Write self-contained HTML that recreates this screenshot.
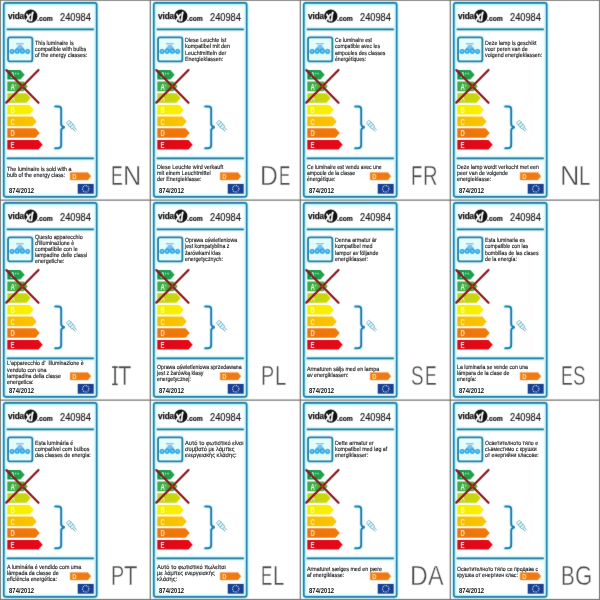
<!DOCTYPE html>
<html lang="en"><head><meta charset="utf-8"><title>Energy labels 240984</title>
<style>
html,body{margin:0;padding:0;background:#fff;}
body{width:600px;height:600px;position:relative;overflow:hidden;font-family:"Liberation Sans",sans-serif;}
.cell{position:absolute;width:150px;height:200px;}
.label{position:absolute;left:4px;top:3px;width:92.5px;height:193.7px;border-radius:2.2px;
  box-shadow:inset 0 0 4px 1.4px #b4f3fd; background:#ffffff;}
svg.g{position:absolute;left:0;top:0;overflow:visible}
.t{position:absolute;font-size:6.0px;line-height:10px;height:10px;white-space:nowrap;color:#1a1a1a;transform:scaleX(0.895);transform-origin:0 0;-webkit-text-stroke:0.14px #1a1a1a;text-rendering:geometricPrecision;}
.vida{position:absolute;left:7.8px;top:9.8px;-webkit-text-stroke:0.25px #111;font-weight:700;font-size:8.4px;line-height:12px;color:#111;letter-spacing:-0.1px;transform:scaleX(0.98);transform-origin:0 0;}
.com{position:absolute;left:36.9px;top:13px;-webkit-text-stroke:0.2px #111;font-weight:700;font-size:7.2px;line-height:12px;color:#111;transform:scaleX(0.94);transform-origin:0 0;}
.num{-webkit-text-stroke:0.15px #151515;position:absolute;left:60.2px;top:10px;font-size:10.6px;line-height:14px;color:#151515;transform:scaleX(0.875);transform-origin:0 0;}
.reg{letter-spacing:0.1px;position:absolute;left:8.8px;top:185.9px;font-weight:700;font-size:6.5px;line-height:10px;color:#101010;transform:scaleX(0.9);transform-origin:0 0;}
.lang{position:absolute;left:0;top:159.9px;height:32px;width:150px;}
.lang span{position:absolute;top:0;font-size:27.7px;line-height:32px;color:#4a4a4a;transform-origin:0 0;white-space:nowrap;-webkit-text-stroke:0.45px #fff;}
.lang svg.sf{position:absolute;left:0;top:0;}
svg.grid{position:absolute;left:0;top:0;}
#page{position:absolute;left:0;top:0;width:600px;height:600px;overflow:hidden;background:#fff;}
svg.g,.label,.lang,svg.grid,.hdr{filter:url(#soft);}
.hdr{position:absolute;left:0;top:0;width:100px;height:28px;}
</style></head><body>
<svg width="0" height="0" style="position:absolute"><filter id="soft" x="0" y="0" width="100%" height="100%" color-interpolation-filters="sRGB"><feConvolveMatrix order="3" kernelMatrix="0.01 0.06 0.01 0.06 0.72 0.06 0.01 0.06 0.01" edgeMode="duplicate" preserveAlpha="false"/></filter></svg>
<div id="page">
<div class="cell" style="left:0px;top:0px">
<div class="label"></div>
<svg class="g" width="150" height="200" viewBox="0 0 150 200">
<defs>
<linearGradient id="c00ag0" x1="0" x2="1" y1="0" y2="0"><stop offset="0" stop-color="#08934a"/><stop offset="1" stop-color="#2ba34a"/></linearGradient>
<linearGradient id="c00ag1" x1="0" x2="1" y1="0" y2="0"><stop offset="0" stop-color="#3aa947"/><stop offset="1" stop-color="#5bb23c"/></linearGradient>
<linearGradient id="c00ag2" x1="0" x2="1" y1="0" y2="0"><stop offset="0" stop-color="#bfd022"/><stop offset="1" stop-color="#cdd900"/></linearGradient>
<linearGradient id="c00ag3" x1="0" x2="1" y1="0" y2="0"><stop offset="0" stop-color="#f0f000"/><stop offset="1" stop-color="#ffec00"/></linearGradient>
<linearGradient id="c00ag4" x1="0" x2="1" y1="0" y2="0"><stop offset="0" stop-color="#f5bb00"/><stop offset="1" stop-color="#fcc600"/></linearGradient>
<linearGradient id="c00ag5" x1="0" x2="1" y1="0" y2="0"><stop offset="0" stop-color="#ea7410"/><stop offset="1" stop-color="#f27904"/></linearGradient>
<linearGradient id="c00ag6" x1="0" x2="1" y1="0" y2="0"><stop offset="0" stop-color="#d60a1c"/><stop offset="1" stop-color="#ea0814"/></linearGradient>
</defs>
<rect x="3.8" y="2.85" width="92.9" height="194" rx="2.2" fill="none" stroke="#a8f4ff" stroke-width="3.8" opacity="0.8"/>
<rect x="3.8" y="2.85" width="92.9" height="194" rx="2.2" fill="none" stroke="#267aa4" stroke-width="1.65"/>
<path d="M7 29.3 H93.6 M7 158.3 H93.6" stroke="#c4f3fc" stroke-width="5" stroke-linecap="round" opacity="0.6" fill="none"/>
<path d="M7.3 29.3 H93.3 M7.3 158.3 H93.3" stroke="#b4eefa" stroke-width="3" stroke-linecap="round" opacity="0.7" fill="none"/>
<line x1="7.5" y1="29.28" x2="93.1" y2="29.28" stroke="#25779a" stroke-width="1.76" stroke-linecap="round"/>
<line x1="7.5" y1="158.3" x2="93.1" y2="158.3" stroke="#25779a" stroke-width="1.82" stroke-linecap="round"/>
<rect x="8.05" y="37.36" width="24.3" height="24.1" rx="2" fill="none" stroke="#c4f5ff" stroke-width="4.6" opacity="0.6"/>
<rect x="8.05" y="37.36" width="24.3" height="24.1" rx="2" fill="#e3fdff" stroke="#2a7b9d" stroke-width="1.8"/>
<rect x="16" y="43.35" width="7.7" height="0.95" fill="#7f9db2"/>
<path d="M18.6 45 H21.4 Q23.4 46.8 24.8 50 H15.2 Q16.6 46.8 18.6 45 Z" fill="#72c2f6"/>
<g fill="#3fb0ec" stroke="#1f93d8" stroke-width="0.7">
<circle cx="12.0" cy="51.5" r="2.2"/>
<circle cx="17.1" cy="51.2" r="2.35"/>
<circle cx="22.3" cy="51.2" r="2.35"/>
<circle cx="27.6" cy="51.5" r="2.2"/>
</g>
<g fill="#7ccff9">
<circle cx="12.0" cy="51.3" r="0.95"/>
<circle cx="17.1" cy="51.0" r="0.95"/>
<circle cx="22.3" cy="51.0" r="0.95"/>
<circle cx="27.6" cy="51.3" r="0.95"/>
</g>
<path d="M7.3 69.90 H20.50 L24.70 74.70 L20.50 79.50 H7.3 Z" fill="url(#c00ag0)"/>
<path d="M7.3 81.57 H23.50 L27.70 86.37 L23.50 91.17 H7.3 Z" fill="url(#c00ag1)"/>
<path d="M7.3 93.24 H26.50 L30.70 98.04 L26.50 102.84 H7.3 Z" fill="url(#c00ag2)"/>
<path d="M7.3 104.91 H29.50 L33.70 109.71 L29.50 114.51 H7.3 Z" fill="url(#c00ag3)"/>
<path d="M7.3 116.58 H32.50 L36.70 121.38 L32.50 126.18 H7.3 Z" fill="url(#c00ag4)"/>
<path d="M7.3 128.25 H35.50 L39.70 133.05 L35.50 137.85 H7.3 Z" fill="url(#c00ag5)"/>
<path d="M7.3 139.92 H38.50 L42.70 144.72 L38.50 149.52 H7.3 Z" fill="url(#c00ag6)"/>
<text transform="translate(10.5 78.00) scale(0.7 1)" font-family="Liberation Sans, sans-serif" font-weight="700" font-size="8.6" fill="#f0fff2">A<tspan dy="-3.1" font-size="5" fill="#a4f2c0">++</tspan></text>
<text transform="translate(10.5 89.67) scale(0.7 1)" font-family="Liberation Sans, sans-serif" font-weight="700" font-size="8.6" fill="#f4fff0">A<tspan dy="-3.1" font-size="5" fill="#a4f2c0">+</tspan></text>
<text transform="translate(10.5 101.34) scale(0.7 1)" font-family="Liberation Sans, sans-serif" font-weight="700" font-size="8.6" fill="#f2f9b4">A</text>
<text transform="translate(10.5 113.01) scale(0.7 1)" font-family="Liberation Sans, sans-serif" font-weight="700" font-size="8.6" fill="#ffff94">B</text>
<text transform="translate(10.5 124.68) scale(0.7 1)" font-family="Liberation Sans, sans-serif" font-weight="700" font-size="8.6" fill="#fff0a0">C</text>
<text transform="translate(10.5 136.35) scale(0.7 1)" font-family="Liberation Sans, sans-serif" font-weight="700" font-size="8.6" fill="#ffe6b4">D</text>
<text transform="translate(10.5 148.02) scale(0.7 1)" font-family="Liberation Sans, sans-serif" font-weight="700" font-size="8.6" fill="#ffe6e0">E</text>
<path d="M6.4 70.1 L38.5 102.8 M38.5 70 L6.3 102.6" stroke="#8e181e" stroke-width="2.25" stroke-linecap="round" fill="none"/>
<rect x="-1.15" y="-1.15" width="2.3" height="2.3" transform="translate(22.4 86.4) rotate(45)" fill="#d8222c"/>
<path d="M55.2 106.5 H58.4 Q61.2 106.5 61.2 109.6 V124 Q61.2 126.7 64.7 127.3 Q61.2 127.9 61.2 130.6 V145.1 Q61.2 148.2 58.4 148.2 H55.2" stroke="#c8f6ff" stroke-width="4.6" fill="none" stroke-linecap="round" opacity="0.55"/>
<path d="M55.2 106.5 H58.4 Q61.2 106.5 61.2 109.6 V124 Q61.2 126.7 64.7 127.3 Q61.2 127.9 61.2 130.6 V145.1 Q61.2 148.2 58.4 148.2 H55.2" stroke="#1f7aae" stroke-width="1.9" fill="none" stroke-linecap="round"/>
<g transform="translate(72.0 126.3) rotate(49)" fill="none">
<rect x="-6.4" y="-2.1" width="8.6" height="4.2" rx="0.8" fill="#dcfaff" stroke="#6fa5bb" stroke-width="0.7"/>
<path d="M-3.5 -2.1 V2.1 M-0.7 -2.1 V2.1" stroke="#4a97b6" stroke-width="0.75"/>
<path d="M2.2 -1 H6 M2.2 1 H6" stroke="#5d9bb3" stroke-width="0.8"/>
</g>
<path d="M70.1 172.4 H87.9 L91 176.2 L87.9 180 H70.1 Z" fill="#ef7a14" stroke="#f6a35a" stroke-width="0.5"/>
<text transform="translate(72.2 179) scale(0.8 1)" font-family="Liberation Sans, sans-serif" font-weight="700" font-size="7.4" fill="#ffe489">D</text>
<rect x="77.7" y="183.9" width="16" height="9.8" fill="#173f92"/>
<circle cx="85.7" cy="188.8" r="3.2" fill="none" stroke="#d6e3f6" stroke-width="1.1" stroke-dasharray="0.9 0.78"/>
<circle cx="30.8" cy="16.2" r="6.6" fill="#111"/>
<text transform="translate(25.4 20.7) scale(0.72 1)" font-family="Liberation Sans, sans-serif" font-weight="700" font-style="italic" font-size="13.6" fill="#fff" stroke="#fff" stroke-width="0.45" letter-spacing="-0.3">xl</text>
</svg>
<div class="hdr"><div class="vida">vida</div><div class="com">.com</div><div class="num">240984</div></div>
<div class="t" style="left:35.2px;top:38.50px;transform:scaleX(0.892)">This luminaire is</div>
<div class="t" style="left:35.2px;top:44.70px;transform:scaleX(0.892)">compatible with bulbs</div>
<div class="t" style="left:35.2px;top:50.90px;transform:scaleX(0.892)">of the energy classes:</div>
<div class="t" style="left:7.4px;top:164.70px;transform:scaleX(0.892)">The luminaire is sold with a</div>
<div class="t" style="left:7.4px;top:170.90px;transform:scaleX(0.892)">bulb of the energy class:</div>
<div class="reg">874/2012</div>
<div class="lang"><span style="left:110.57px;transform:scaleX(0.640)">E</span><span style="left:123.12px;transform:scaleX(0.912)">N</span></div>
</div>
<div class="cell" style="left:150px;top:0px">
<div class="label"></div>
<svg class="g" width="150" height="200" viewBox="0 0 150 200">
<defs>
<linearGradient id="c10ag0" x1="0" x2="1" y1="0" y2="0"><stop offset="0" stop-color="#08934a"/><stop offset="1" stop-color="#2ba34a"/></linearGradient>
<linearGradient id="c10ag1" x1="0" x2="1" y1="0" y2="0"><stop offset="0" stop-color="#3aa947"/><stop offset="1" stop-color="#5bb23c"/></linearGradient>
<linearGradient id="c10ag2" x1="0" x2="1" y1="0" y2="0"><stop offset="0" stop-color="#bfd022"/><stop offset="1" stop-color="#cdd900"/></linearGradient>
<linearGradient id="c10ag3" x1="0" x2="1" y1="0" y2="0"><stop offset="0" stop-color="#f0f000"/><stop offset="1" stop-color="#ffec00"/></linearGradient>
<linearGradient id="c10ag4" x1="0" x2="1" y1="0" y2="0"><stop offset="0" stop-color="#f5bb00"/><stop offset="1" stop-color="#fcc600"/></linearGradient>
<linearGradient id="c10ag5" x1="0" x2="1" y1="0" y2="0"><stop offset="0" stop-color="#ea7410"/><stop offset="1" stop-color="#f27904"/></linearGradient>
<linearGradient id="c10ag6" x1="0" x2="1" y1="0" y2="0"><stop offset="0" stop-color="#d60a1c"/><stop offset="1" stop-color="#ea0814"/></linearGradient>
</defs>
<rect x="3.8" y="2.85" width="92.9" height="194" rx="2.2" fill="none" stroke="#a8f4ff" stroke-width="3.8" opacity="0.8"/>
<rect x="3.8" y="2.85" width="92.9" height="194" rx="2.2" fill="none" stroke="#267aa4" stroke-width="1.65"/>
<path d="M7 29.3 H93.6 M7 158.3 H93.6" stroke="#c4f3fc" stroke-width="5" stroke-linecap="round" opacity="0.6" fill="none"/>
<path d="M7.3 29.3 H93.3 M7.3 158.3 H93.3" stroke="#b4eefa" stroke-width="3" stroke-linecap="round" opacity="0.7" fill="none"/>
<line x1="7.5" y1="29.28" x2="93.1" y2="29.28" stroke="#25779a" stroke-width="1.76" stroke-linecap="round"/>
<line x1="7.5" y1="158.3" x2="93.1" y2="158.3" stroke="#25779a" stroke-width="1.82" stroke-linecap="round"/>
<rect x="8.05" y="37.36" width="24.3" height="24.1" rx="2" fill="none" stroke="#c4f5ff" stroke-width="4.6" opacity="0.6"/>
<rect x="8.05" y="37.36" width="24.3" height="24.1" rx="2" fill="#e3fdff" stroke="#2a7b9d" stroke-width="1.8"/>
<rect x="16" y="43.35" width="7.7" height="0.95" fill="#7f9db2"/>
<path d="M18.6 45 H21.4 Q23.4 46.8 24.8 50 H15.2 Q16.6 46.8 18.6 45 Z" fill="#72c2f6"/>
<g fill="#3fb0ec" stroke="#1f93d8" stroke-width="0.7">
<circle cx="12.0" cy="51.5" r="2.2"/>
<circle cx="17.1" cy="51.2" r="2.35"/>
<circle cx="22.3" cy="51.2" r="2.35"/>
<circle cx="27.6" cy="51.5" r="2.2"/>
</g>
<g fill="#7ccff9">
<circle cx="12.0" cy="51.3" r="0.95"/>
<circle cx="17.1" cy="51.0" r="0.95"/>
<circle cx="22.3" cy="51.0" r="0.95"/>
<circle cx="27.6" cy="51.3" r="0.95"/>
</g>
<path d="M7.3 69.90 H20.50 L24.70 74.70 L20.50 79.50 H7.3 Z" fill="url(#c10ag0)"/>
<path d="M7.3 81.57 H23.50 L27.70 86.37 L23.50 91.17 H7.3 Z" fill="url(#c10ag1)"/>
<path d="M7.3 93.24 H26.50 L30.70 98.04 L26.50 102.84 H7.3 Z" fill="url(#c10ag2)"/>
<path d="M7.3 104.91 H29.50 L33.70 109.71 L29.50 114.51 H7.3 Z" fill="url(#c10ag3)"/>
<path d="M7.3 116.58 H32.50 L36.70 121.38 L32.50 126.18 H7.3 Z" fill="url(#c10ag4)"/>
<path d="M7.3 128.25 H35.50 L39.70 133.05 L35.50 137.85 H7.3 Z" fill="url(#c10ag5)"/>
<path d="M7.3 139.92 H38.50 L42.70 144.72 L38.50 149.52 H7.3 Z" fill="url(#c10ag6)"/>
<text transform="translate(10.5 78.00) scale(0.7 1)" font-family="Liberation Sans, sans-serif" font-weight="700" font-size="8.6" fill="#f0fff2">A<tspan dy="-3.1" font-size="5" fill="#a4f2c0">++</tspan></text>
<text transform="translate(10.5 89.67) scale(0.7 1)" font-family="Liberation Sans, sans-serif" font-weight="700" font-size="8.6" fill="#f4fff0">A<tspan dy="-3.1" font-size="5" fill="#a4f2c0">+</tspan></text>
<text transform="translate(10.5 101.34) scale(0.7 1)" font-family="Liberation Sans, sans-serif" font-weight="700" font-size="8.6" fill="#f2f9b4">A</text>
<text transform="translate(10.5 113.01) scale(0.7 1)" font-family="Liberation Sans, sans-serif" font-weight="700" font-size="8.6" fill="#ffff94">B</text>
<text transform="translate(10.5 124.68) scale(0.7 1)" font-family="Liberation Sans, sans-serif" font-weight="700" font-size="8.6" fill="#fff0a0">C</text>
<text transform="translate(10.5 136.35) scale(0.7 1)" font-family="Liberation Sans, sans-serif" font-weight="700" font-size="8.6" fill="#ffe6b4">D</text>
<text transform="translate(10.5 148.02) scale(0.7 1)" font-family="Liberation Sans, sans-serif" font-weight="700" font-size="8.6" fill="#ffe6e0">E</text>
<path d="M6.4 70.1 L38.5 102.8 M38.5 70 L6.3 102.6" stroke="#8e181e" stroke-width="2.25" stroke-linecap="round" fill="none"/>
<rect x="-1.15" y="-1.15" width="2.3" height="2.3" transform="translate(22.4 86.4) rotate(45)" fill="#d8222c"/>
<path d="M55.2 106.5 H58.4 Q61.2 106.5 61.2 109.6 V124 Q61.2 126.7 64.7 127.3 Q61.2 127.9 61.2 130.6 V145.1 Q61.2 148.2 58.4 148.2 H55.2" stroke="#c8f6ff" stroke-width="4.6" fill="none" stroke-linecap="round" opacity="0.55"/>
<path d="M55.2 106.5 H58.4 Q61.2 106.5 61.2 109.6 V124 Q61.2 126.7 64.7 127.3 Q61.2 127.9 61.2 130.6 V145.1 Q61.2 148.2 58.4 148.2 H55.2" stroke="#1f7aae" stroke-width="1.9" fill="none" stroke-linecap="round"/>
<g transform="translate(72.0 126.3) rotate(49)" fill="none">
<rect x="-6.4" y="-2.1" width="8.6" height="4.2" rx="0.8" fill="#dcfaff" stroke="#6fa5bb" stroke-width="0.7"/>
<path d="M-3.5 -2.1 V2.1 M-0.7 -2.1 V2.1" stroke="#4a97b6" stroke-width="0.75"/>
<path d="M2.2 -1 H6 M2.2 1 H6" stroke="#5d9bb3" stroke-width="0.8"/>
</g>
<path d="M70.1 172.4 H87.9 L91 176.2 L87.9 180 H70.1 Z" fill="#ef7a14" stroke="#f6a35a" stroke-width="0.5"/>
<text transform="translate(72.2 179) scale(0.8 1)" font-family="Liberation Sans, sans-serif" font-weight="700" font-size="7.4" fill="#ffe489">D</text>
<rect x="77.7" y="183.9" width="16" height="9.8" fill="#173f92"/>
<circle cx="85.7" cy="188.8" r="3.2" fill="none" stroke="#d6e3f6" stroke-width="1.1" stroke-dasharray="0.9 0.78"/>
<circle cx="30.8" cy="16.2" r="6.6" fill="#111"/>
<text transform="translate(25.4 20.7) scale(0.72 1)" font-family="Liberation Sans, sans-serif" font-weight="700" font-style="italic" font-size="13.6" fill="#fff" stroke="#fff" stroke-width="0.45" letter-spacing="-0.3">xl</text>
</svg>
<div class="hdr"><div class="vida">vida</div><div class="com">.com</div><div class="num">240984</div></div>
<div class="t" style="left:35.2px;top:36.20px;transform:scaleX(0.895)">Diese Leuchte ist</div>
<div class="t" style="left:35.2px;top:42.40px;transform:scaleX(0.895)">kompatibel mit den</div>
<div class="t" style="left:35.2px;top:48.60px;transform:scaleX(0.895)">Leuchtmitteln der</div>
<div class="t" style="left:35.2px;top:54.80px;transform:scaleX(0.895)">Energieklassen:</div>
<div class="t" style="left:7.4px;top:162.50px;transform:scaleX(0.895)">Diese Leuchte wird verkauft</div>
<div class="t" style="left:7.4px;top:168.70px;transform:scaleX(0.895)">mit einem Leuchtmittel</div>
<div class="t" style="left:7.4px;top:174.90px;transform:scaleX(0.895)">der Energieklasse:</div>
<div class="reg">874/2012</div>
<div class="lang"><span style="left:109.96px;transform:scaleX(0.895)">D</span><span style="left:128.64px;transform:scaleX(0.612)">E</span></div>
</div>
<div class="cell" style="left:300px;top:0px">
<div class="label"></div>
<svg class="g" width="150" height="200" viewBox="0 0 150 200">
<defs>
<linearGradient id="c20ag0" x1="0" x2="1" y1="0" y2="0"><stop offset="0" stop-color="#08934a"/><stop offset="1" stop-color="#2ba34a"/></linearGradient>
<linearGradient id="c20ag1" x1="0" x2="1" y1="0" y2="0"><stop offset="0" stop-color="#3aa947"/><stop offset="1" stop-color="#5bb23c"/></linearGradient>
<linearGradient id="c20ag2" x1="0" x2="1" y1="0" y2="0"><stop offset="0" stop-color="#bfd022"/><stop offset="1" stop-color="#cdd900"/></linearGradient>
<linearGradient id="c20ag3" x1="0" x2="1" y1="0" y2="0"><stop offset="0" stop-color="#f0f000"/><stop offset="1" stop-color="#ffec00"/></linearGradient>
<linearGradient id="c20ag4" x1="0" x2="1" y1="0" y2="0"><stop offset="0" stop-color="#f5bb00"/><stop offset="1" stop-color="#fcc600"/></linearGradient>
<linearGradient id="c20ag5" x1="0" x2="1" y1="0" y2="0"><stop offset="0" stop-color="#ea7410"/><stop offset="1" stop-color="#f27904"/></linearGradient>
<linearGradient id="c20ag6" x1="0" x2="1" y1="0" y2="0"><stop offset="0" stop-color="#d60a1c"/><stop offset="1" stop-color="#ea0814"/></linearGradient>
</defs>
<rect x="3.8" y="2.85" width="92.9" height="194" rx="2.2" fill="none" stroke="#a8f4ff" stroke-width="3.8" opacity="0.8"/>
<rect x="3.8" y="2.85" width="92.9" height="194" rx="2.2" fill="none" stroke="#267aa4" stroke-width="1.65"/>
<path d="M7 29.3 H93.6 M7 158.3 H93.6" stroke="#c4f3fc" stroke-width="5" stroke-linecap="round" opacity="0.6" fill="none"/>
<path d="M7.3 29.3 H93.3 M7.3 158.3 H93.3" stroke="#b4eefa" stroke-width="3" stroke-linecap="round" opacity="0.7" fill="none"/>
<line x1="7.5" y1="29.28" x2="93.1" y2="29.28" stroke="#25779a" stroke-width="1.76" stroke-linecap="round"/>
<line x1="7.5" y1="158.3" x2="93.1" y2="158.3" stroke="#25779a" stroke-width="1.82" stroke-linecap="round"/>
<rect x="8.05" y="37.36" width="24.3" height="24.1" rx="2" fill="none" stroke="#c4f5ff" stroke-width="4.6" opacity="0.6"/>
<rect x="8.05" y="37.36" width="24.3" height="24.1" rx="2" fill="#e3fdff" stroke="#2a7b9d" stroke-width="1.8"/>
<rect x="16" y="43.35" width="7.7" height="0.95" fill="#7f9db2"/>
<path d="M18.6 45 H21.4 Q23.4 46.8 24.8 50 H15.2 Q16.6 46.8 18.6 45 Z" fill="#72c2f6"/>
<g fill="#3fb0ec" stroke="#1f93d8" stroke-width="0.7">
<circle cx="12.0" cy="51.5" r="2.2"/>
<circle cx="17.1" cy="51.2" r="2.35"/>
<circle cx="22.3" cy="51.2" r="2.35"/>
<circle cx="27.6" cy="51.5" r="2.2"/>
</g>
<g fill="#7ccff9">
<circle cx="12.0" cy="51.3" r="0.95"/>
<circle cx="17.1" cy="51.0" r="0.95"/>
<circle cx="22.3" cy="51.0" r="0.95"/>
<circle cx="27.6" cy="51.3" r="0.95"/>
</g>
<path d="M7.3 69.90 H20.50 L24.70 74.70 L20.50 79.50 H7.3 Z" fill="url(#c20ag0)"/>
<path d="M7.3 81.57 H23.50 L27.70 86.37 L23.50 91.17 H7.3 Z" fill="url(#c20ag1)"/>
<path d="M7.3 93.24 H26.50 L30.70 98.04 L26.50 102.84 H7.3 Z" fill="url(#c20ag2)"/>
<path d="M7.3 104.91 H29.50 L33.70 109.71 L29.50 114.51 H7.3 Z" fill="url(#c20ag3)"/>
<path d="M7.3 116.58 H32.50 L36.70 121.38 L32.50 126.18 H7.3 Z" fill="url(#c20ag4)"/>
<path d="M7.3 128.25 H35.50 L39.70 133.05 L35.50 137.85 H7.3 Z" fill="url(#c20ag5)"/>
<path d="M7.3 139.92 H38.50 L42.70 144.72 L38.50 149.52 H7.3 Z" fill="url(#c20ag6)"/>
<text transform="translate(10.5 78.00) scale(0.7 1)" font-family="Liberation Sans, sans-serif" font-weight="700" font-size="8.6" fill="#f0fff2">A<tspan dy="-3.1" font-size="5" fill="#a4f2c0">++</tspan></text>
<text transform="translate(10.5 89.67) scale(0.7 1)" font-family="Liberation Sans, sans-serif" font-weight="700" font-size="8.6" fill="#f4fff0">A<tspan dy="-3.1" font-size="5" fill="#a4f2c0">+</tspan></text>
<text transform="translate(10.5 101.34) scale(0.7 1)" font-family="Liberation Sans, sans-serif" font-weight="700" font-size="8.6" fill="#f2f9b4">A</text>
<text transform="translate(10.5 113.01) scale(0.7 1)" font-family="Liberation Sans, sans-serif" font-weight="700" font-size="8.6" fill="#ffff94">B</text>
<text transform="translate(10.5 124.68) scale(0.7 1)" font-family="Liberation Sans, sans-serif" font-weight="700" font-size="8.6" fill="#fff0a0">C</text>
<text transform="translate(10.5 136.35) scale(0.7 1)" font-family="Liberation Sans, sans-serif" font-weight="700" font-size="8.6" fill="#ffe6b4">D</text>
<text transform="translate(10.5 148.02) scale(0.7 1)" font-family="Liberation Sans, sans-serif" font-weight="700" font-size="8.6" fill="#ffe6e0">E</text>
<path d="M6.4 70.1 L38.5 102.8 M38.5 70 L6.3 102.6" stroke="#8e181e" stroke-width="2.25" stroke-linecap="round" fill="none"/>
<rect x="-1.15" y="-1.15" width="2.3" height="2.3" transform="translate(22.4 86.4) rotate(45)" fill="#d8222c"/>
<path d="M55.2 106.5 H58.4 Q61.2 106.5 61.2 109.6 V124 Q61.2 126.7 64.7 127.3 Q61.2 127.9 61.2 130.6 V145.1 Q61.2 148.2 58.4 148.2 H55.2" stroke="#c8f6ff" stroke-width="4.6" fill="none" stroke-linecap="round" opacity="0.55"/>
<path d="M55.2 106.5 H58.4 Q61.2 106.5 61.2 109.6 V124 Q61.2 126.7 64.7 127.3 Q61.2 127.9 61.2 130.6 V145.1 Q61.2 148.2 58.4 148.2 H55.2" stroke="#1f7aae" stroke-width="1.9" fill="none" stroke-linecap="round"/>
<g transform="translate(72.0 126.3) rotate(49)" fill="none">
<rect x="-6.4" y="-2.1" width="8.6" height="4.2" rx="0.8" fill="#dcfaff" stroke="#6fa5bb" stroke-width="0.7"/>
<path d="M-3.5 -2.1 V2.1 M-0.7 -2.1 V2.1" stroke="#4a97b6" stroke-width="0.75"/>
<path d="M2.2 -1 H6 M2.2 1 H6" stroke="#5d9bb3" stroke-width="0.8"/>
</g>
<path d="M70.1 172.4 H87.9 L91 176.2 L87.9 180 H70.1 Z" fill="#ef7a14" stroke="#f6a35a" stroke-width="0.5"/>
<text transform="translate(72.2 179) scale(0.8 1)" font-family="Liberation Sans, sans-serif" font-weight="700" font-size="7.4" fill="#ffe489">D</text>
<rect x="77.7" y="183.9" width="16" height="9.8" fill="#173f92"/>
<circle cx="85.7" cy="188.8" r="3.2" fill="none" stroke="#d6e3f6" stroke-width="1.1" stroke-dasharray="0.9 0.78"/>
<circle cx="30.8" cy="16.2" r="6.6" fill="#111"/>
<text transform="translate(25.4 20.7) scale(0.72 1)" font-family="Liberation Sans, sans-serif" font-weight="700" font-style="italic" font-size="13.6" fill="#fff" stroke="#fff" stroke-width="0.45" letter-spacing="-0.3">xl</text>
</svg>
<div class="hdr"><div class="vida">vida</div><div class="com">.com</div><div class="num">240984</div></div>
<div class="t" style="left:35.2px;top:36.20px;transform:scaleX(0.854)">Ce luminaire est</div>
<div class="t" style="left:35.2px;top:42.40px;transform:scaleX(0.854)">compatible avec les</div>
<div class="t" style="left:35.2px;top:48.60px;transform:scaleX(0.854)">ampoules des classes</div>
<div class="t" style="left:35.2px;top:54.80px;transform:scaleX(0.854)">énergétiques:</div>
<div class="t" style="left:7.4px;top:162.50px;transform:scaleX(0.854)">Ce luminaire est vendu avec une</div>
<div class="t" style="left:7.4px;top:168.70px;transform:scaleX(0.854)">ampoule de la classe</div>
<div class="t" style="left:7.4px;top:174.90px;transform:scaleX(0.854)">énergétique:</div>
<div class="reg">874/2012</div>
<div class="lang"><span style="left:110.50px;transform:scaleX(0.672)">F</span><span style="left:123.16px;transform:scaleX(0.730)">R</span></div>
</div>
<div class="cell" style="left:450px;top:0px">
<div class="label"></div>
<svg class="g" width="150" height="200" viewBox="0 0 150 200">
<defs>
<linearGradient id="c30ag0" x1="0" x2="1" y1="0" y2="0"><stop offset="0" stop-color="#08934a"/><stop offset="1" stop-color="#2ba34a"/></linearGradient>
<linearGradient id="c30ag1" x1="0" x2="1" y1="0" y2="0"><stop offset="0" stop-color="#3aa947"/><stop offset="1" stop-color="#5bb23c"/></linearGradient>
<linearGradient id="c30ag2" x1="0" x2="1" y1="0" y2="0"><stop offset="0" stop-color="#bfd022"/><stop offset="1" stop-color="#cdd900"/></linearGradient>
<linearGradient id="c30ag3" x1="0" x2="1" y1="0" y2="0"><stop offset="0" stop-color="#f0f000"/><stop offset="1" stop-color="#ffec00"/></linearGradient>
<linearGradient id="c30ag4" x1="0" x2="1" y1="0" y2="0"><stop offset="0" stop-color="#f5bb00"/><stop offset="1" stop-color="#fcc600"/></linearGradient>
<linearGradient id="c30ag5" x1="0" x2="1" y1="0" y2="0"><stop offset="0" stop-color="#ea7410"/><stop offset="1" stop-color="#f27904"/></linearGradient>
<linearGradient id="c30ag6" x1="0" x2="1" y1="0" y2="0"><stop offset="0" stop-color="#d60a1c"/><stop offset="1" stop-color="#ea0814"/></linearGradient>
</defs>
<rect x="3.8" y="2.85" width="92.9" height="194" rx="2.2" fill="none" stroke="#a8f4ff" stroke-width="3.8" opacity="0.8"/>
<rect x="3.8" y="2.85" width="92.9" height="194" rx="2.2" fill="none" stroke="#267aa4" stroke-width="1.65"/>
<path d="M7 29.3 H93.6 M7 158.3 H93.6" stroke="#c4f3fc" stroke-width="5" stroke-linecap="round" opacity="0.6" fill="none"/>
<path d="M7.3 29.3 H93.3 M7.3 158.3 H93.3" stroke="#b4eefa" stroke-width="3" stroke-linecap="round" opacity="0.7" fill="none"/>
<line x1="7.5" y1="29.28" x2="93.1" y2="29.28" stroke="#25779a" stroke-width="1.76" stroke-linecap="round"/>
<line x1="7.5" y1="158.3" x2="93.1" y2="158.3" stroke="#25779a" stroke-width="1.82" stroke-linecap="round"/>
<rect x="8.05" y="37.36" width="24.3" height="24.1" rx="2" fill="none" stroke="#c4f5ff" stroke-width="4.6" opacity="0.6"/>
<rect x="8.05" y="37.36" width="24.3" height="24.1" rx="2" fill="#e3fdff" stroke="#2a7b9d" stroke-width="1.8"/>
<rect x="16" y="43.35" width="7.7" height="0.95" fill="#7f9db2"/>
<path d="M18.6 45 H21.4 Q23.4 46.8 24.8 50 H15.2 Q16.6 46.8 18.6 45 Z" fill="#72c2f6"/>
<g fill="#3fb0ec" stroke="#1f93d8" stroke-width="0.7">
<circle cx="12.0" cy="51.5" r="2.2"/>
<circle cx="17.1" cy="51.2" r="2.35"/>
<circle cx="22.3" cy="51.2" r="2.35"/>
<circle cx="27.6" cy="51.5" r="2.2"/>
</g>
<g fill="#7ccff9">
<circle cx="12.0" cy="51.3" r="0.95"/>
<circle cx="17.1" cy="51.0" r="0.95"/>
<circle cx="22.3" cy="51.0" r="0.95"/>
<circle cx="27.6" cy="51.3" r="0.95"/>
</g>
<path d="M7.3 69.90 H20.50 L24.70 74.70 L20.50 79.50 H7.3 Z" fill="url(#c30ag0)"/>
<path d="M7.3 81.57 H23.50 L27.70 86.37 L23.50 91.17 H7.3 Z" fill="url(#c30ag1)"/>
<path d="M7.3 93.24 H26.50 L30.70 98.04 L26.50 102.84 H7.3 Z" fill="url(#c30ag2)"/>
<path d="M7.3 104.91 H29.50 L33.70 109.71 L29.50 114.51 H7.3 Z" fill="url(#c30ag3)"/>
<path d="M7.3 116.58 H32.50 L36.70 121.38 L32.50 126.18 H7.3 Z" fill="url(#c30ag4)"/>
<path d="M7.3 128.25 H35.50 L39.70 133.05 L35.50 137.85 H7.3 Z" fill="url(#c30ag5)"/>
<path d="M7.3 139.92 H38.50 L42.70 144.72 L38.50 149.52 H7.3 Z" fill="url(#c30ag6)"/>
<text transform="translate(10.5 78.00) scale(0.7 1)" font-family="Liberation Sans, sans-serif" font-weight="700" font-size="8.6" fill="#f0fff2">A<tspan dy="-3.1" font-size="5" fill="#a4f2c0">++</tspan></text>
<text transform="translate(10.5 89.67) scale(0.7 1)" font-family="Liberation Sans, sans-serif" font-weight="700" font-size="8.6" fill="#f4fff0">A<tspan dy="-3.1" font-size="5" fill="#a4f2c0">+</tspan></text>
<text transform="translate(10.5 101.34) scale(0.7 1)" font-family="Liberation Sans, sans-serif" font-weight="700" font-size="8.6" fill="#f2f9b4">A</text>
<text transform="translate(10.5 113.01) scale(0.7 1)" font-family="Liberation Sans, sans-serif" font-weight="700" font-size="8.6" fill="#ffff94">B</text>
<text transform="translate(10.5 124.68) scale(0.7 1)" font-family="Liberation Sans, sans-serif" font-weight="700" font-size="8.6" fill="#fff0a0">C</text>
<text transform="translate(10.5 136.35) scale(0.7 1)" font-family="Liberation Sans, sans-serif" font-weight="700" font-size="8.6" fill="#ffe6b4">D</text>
<text transform="translate(10.5 148.02) scale(0.7 1)" font-family="Liberation Sans, sans-serif" font-weight="700" font-size="8.6" fill="#ffe6e0">E</text>
<path d="M6.4 70.1 L38.5 102.8 M38.5 70 L6.3 102.6" stroke="#8e181e" stroke-width="2.25" stroke-linecap="round" fill="none"/>
<rect x="-1.15" y="-1.15" width="2.3" height="2.3" transform="translate(22.4 86.4) rotate(45)" fill="#d8222c"/>
<path d="M55.2 106.5 H58.4 Q61.2 106.5 61.2 109.6 V124 Q61.2 126.7 64.7 127.3 Q61.2 127.9 61.2 130.6 V145.1 Q61.2 148.2 58.4 148.2 H55.2" stroke="#c8f6ff" stroke-width="4.6" fill="none" stroke-linecap="round" opacity="0.55"/>
<path d="M55.2 106.5 H58.4 Q61.2 106.5 61.2 109.6 V124 Q61.2 126.7 64.7 127.3 Q61.2 127.9 61.2 130.6 V145.1 Q61.2 148.2 58.4 148.2 H55.2" stroke="#1f7aae" stroke-width="1.9" fill="none" stroke-linecap="round"/>
<g transform="translate(72.0 126.3) rotate(49)" fill="none">
<rect x="-6.4" y="-2.1" width="8.6" height="4.2" rx="0.8" fill="#dcfaff" stroke="#6fa5bb" stroke-width="0.7"/>
<path d="M-3.5 -2.1 V2.1 M-0.7 -2.1 V2.1" stroke="#4a97b6" stroke-width="0.75"/>
<path d="M2.2 -1 H6 M2.2 1 H6" stroke="#5d9bb3" stroke-width="0.8"/>
</g>
<path d="M70.1 172.4 H87.9 L91 176.2 L87.9 180 H70.1 Z" fill="#ef7a14" stroke="#f6a35a" stroke-width="0.5"/>
<text transform="translate(72.2 179) scale(0.8 1)" font-family="Liberation Sans, sans-serif" font-weight="700" font-size="7.4" fill="#ffe489">D</text>
<rect x="77.7" y="183.9" width="16" height="9.8" fill="#173f92"/>
<circle cx="85.7" cy="188.8" r="3.2" fill="none" stroke="#d6e3f6" stroke-width="1.1" stroke-dasharray="0.9 0.78"/>
<circle cx="30.8" cy="16.2" r="6.6" fill="#111"/>
<text transform="translate(25.4 20.7) scale(0.72 1)" font-family="Liberation Sans, sans-serif" font-weight="700" font-style="italic" font-size="13.6" fill="#fff" stroke="#fff" stroke-width="0.45" letter-spacing="-0.3">xl</text>
</svg>
<div class="hdr"><div class="vida">vida</div><div class="com">.com</div><div class="num">240984</div></div>
<div class="t" style="left:35.2px;top:38.50px;transform:scaleX(0.884)">Deze lamp is geschikt</div>
<div class="t" style="left:35.2px;top:44.70px;transform:scaleX(0.884)">voor peren van de</div>
<div class="t" style="left:35.2px;top:50.90px;transform:scaleX(0.884)">volgend energieklassen:</div>
<div class="t" style="left:7.4px;top:162.50px;transform:scaleX(0.884)">Deze lamp wordt verkocht met een</div>
<div class="t" style="left:7.4px;top:168.70px;transform:scaleX(0.884)">peer van de volgende</div>
<div class="t" style="left:7.4px;top:174.90px;transform:scaleX(0.884)">energieklasse:</div>
<div class="reg">874/2012</div>
<div class="lang"><span style="left:109.78px;transform:scaleX(0.971)">N</span><span style="left:129.12px;transform:scaleX(0.744)">L</span></div>
</div>
<div class="cell" style="left:0px;top:200px">
<div class="label"></div>
<svg class="g" width="150" height="200" viewBox="0 0 150 200">
<defs>
<linearGradient id="c01ag0" x1="0" x2="1" y1="0" y2="0"><stop offset="0" stop-color="#08934a"/><stop offset="1" stop-color="#2ba34a"/></linearGradient>
<linearGradient id="c01ag1" x1="0" x2="1" y1="0" y2="0"><stop offset="0" stop-color="#3aa947"/><stop offset="1" stop-color="#5bb23c"/></linearGradient>
<linearGradient id="c01ag2" x1="0" x2="1" y1="0" y2="0"><stop offset="0" stop-color="#bfd022"/><stop offset="1" stop-color="#cdd900"/></linearGradient>
<linearGradient id="c01ag3" x1="0" x2="1" y1="0" y2="0"><stop offset="0" stop-color="#f0f000"/><stop offset="1" stop-color="#ffec00"/></linearGradient>
<linearGradient id="c01ag4" x1="0" x2="1" y1="0" y2="0"><stop offset="0" stop-color="#f5bb00"/><stop offset="1" stop-color="#fcc600"/></linearGradient>
<linearGradient id="c01ag5" x1="0" x2="1" y1="0" y2="0"><stop offset="0" stop-color="#ea7410"/><stop offset="1" stop-color="#f27904"/></linearGradient>
<linearGradient id="c01ag6" x1="0" x2="1" y1="0" y2="0"><stop offset="0" stop-color="#d60a1c"/><stop offset="1" stop-color="#ea0814"/></linearGradient>
</defs>
<rect x="3.8" y="2.85" width="92.9" height="194" rx="2.2" fill="none" stroke="#a8f4ff" stroke-width="3.8" opacity="0.8"/>
<rect x="3.8" y="2.85" width="92.9" height="194" rx="2.2" fill="none" stroke="#267aa4" stroke-width="1.65"/>
<path d="M7 29.3 H93.6 M7 158.3 H93.6" stroke="#c4f3fc" stroke-width="5" stroke-linecap="round" opacity="0.6" fill="none"/>
<path d="M7.3 29.3 H93.3 M7.3 158.3 H93.3" stroke="#b4eefa" stroke-width="3" stroke-linecap="round" opacity="0.7" fill="none"/>
<line x1="7.5" y1="29.28" x2="93.1" y2="29.28" stroke="#25779a" stroke-width="1.76" stroke-linecap="round"/>
<line x1="7.5" y1="158.3" x2="93.1" y2="158.3" stroke="#25779a" stroke-width="1.82" stroke-linecap="round"/>
<rect x="8.05" y="37.36" width="24.3" height="24.1" rx="2" fill="none" stroke="#c4f5ff" stroke-width="4.6" opacity="0.6"/>
<rect x="8.05" y="37.36" width="24.3" height="24.1" rx="2" fill="#e3fdff" stroke="#2a7b9d" stroke-width="1.8"/>
<rect x="16" y="43.35" width="7.7" height="0.95" fill="#7f9db2"/>
<path d="M18.6 45 H21.4 Q23.4 46.8 24.8 50 H15.2 Q16.6 46.8 18.6 45 Z" fill="#72c2f6"/>
<g fill="#3fb0ec" stroke="#1f93d8" stroke-width="0.7">
<circle cx="12.0" cy="51.5" r="2.2"/>
<circle cx="17.1" cy="51.2" r="2.35"/>
<circle cx="22.3" cy="51.2" r="2.35"/>
<circle cx="27.6" cy="51.5" r="2.2"/>
</g>
<g fill="#7ccff9">
<circle cx="12.0" cy="51.3" r="0.95"/>
<circle cx="17.1" cy="51.0" r="0.95"/>
<circle cx="22.3" cy="51.0" r="0.95"/>
<circle cx="27.6" cy="51.3" r="0.95"/>
</g>
<path d="M7.3 69.90 H20.50 L24.70 74.70 L20.50 79.50 H7.3 Z" fill="url(#c01ag0)"/>
<path d="M7.3 81.57 H23.50 L27.70 86.37 L23.50 91.17 H7.3 Z" fill="url(#c01ag1)"/>
<path d="M7.3 93.24 H26.50 L30.70 98.04 L26.50 102.84 H7.3 Z" fill="url(#c01ag2)"/>
<path d="M7.3 104.91 H29.50 L33.70 109.71 L29.50 114.51 H7.3 Z" fill="url(#c01ag3)"/>
<path d="M7.3 116.58 H32.50 L36.70 121.38 L32.50 126.18 H7.3 Z" fill="url(#c01ag4)"/>
<path d="M7.3 128.25 H35.50 L39.70 133.05 L35.50 137.85 H7.3 Z" fill="url(#c01ag5)"/>
<path d="M7.3 139.92 H38.50 L42.70 144.72 L38.50 149.52 H7.3 Z" fill="url(#c01ag6)"/>
<text transform="translate(10.5 78.00) scale(0.7 1)" font-family="Liberation Sans, sans-serif" font-weight="700" font-size="8.6" fill="#f0fff2">A<tspan dy="-3.1" font-size="5" fill="#a4f2c0">++</tspan></text>
<text transform="translate(10.5 89.67) scale(0.7 1)" font-family="Liberation Sans, sans-serif" font-weight="700" font-size="8.6" fill="#f4fff0">A<tspan dy="-3.1" font-size="5" fill="#a4f2c0">+</tspan></text>
<text transform="translate(10.5 101.34) scale(0.7 1)" font-family="Liberation Sans, sans-serif" font-weight="700" font-size="8.6" fill="#f2f9b4">A</text>
<text transform="translate(10.5 113.01) scale(0.7 1)" font-family="Liberation Sans, sans-serif" font-weight="700" font-size="8.6" fill="#ffff94">B</text>
<text transform="translate(10.5 124.68) scale(0.7 1)" font-family="Liberation Sans, sans-serif" font-weight="700" font-size="8.6" fill="#fff0a0">C</text>
<text transform="translate(10.5 136.35) scale(0.7 1)" font-family="Liberation Sans, sans-serif" font-weight="700" font-size="8.6" fill="#ffe6b4">D</text>
<text transform="translate(10.5 148.02) scale(0.7 1)" font-family="Liberation Sans, sans-serif" font-weight="700" font-size="8.6" fill="#ffe6e0">E</text>
<path d="M6.4 70.1 L38.5 102.8 M38.5 70 L6.3 102.6" stroke="#8e181e" stroke-width="2.25" stroke-linecap="round" fill="none"/>
<rect x="-1.15" y="-1.15" width="2.3" height="2.3" transform="translate(22.4 86.4) rotate(45)" fill="#d8222c"/>
<path d="M55.2 106.5 H58.4 Q61.2 106.5 61.2 109.6 V124 Q61.2 126.7 64.7 127.3 Q61.2 127.9 61.2 130.6 V145.1 Q61.2 148.2 58.4 148.2 H55.2" stroke="#c8f6ff" stroke-width="4.6" fill="none" stroke-linecap="round" opacity="0.55"/>
<path d="M55.2 106.5 H58.4 Q61.2 106.5 61.2 109.6 V124 Q61.2 126.7 64.7 127.3 Q61.2 127.9 61.2 130.6 V145.1 Q61.2 148.2 58.4 148.2 H55.2" stroke="#1f7aae" stroke-width="1.9" fill="none" stroke-linecap="round"/>
<g transform="translate(72.0 126.3) rotate(49)" fill="none">
<rect x="-6.4" y="-2.1" width="8.6" height="4.2" rx="0.8" fill="#dcfaff" stroke="#6fa5bb" stroke-width="0.7"/>
<path d="M-3.5 -2.1 V2.1 M-0.7 -2.1 V2.1" stroke="#4a97b6" stroke-width="0.75"/>
<path d="M2.2 -1 H6 M2.2 1 H6" stroke="#5d9bb3" stroke-width="0.8"/>
</g>
<path d="M70.1 172.4 H87.9 L91 176.2 L87.9 180 H70.1 Z" fill="#ef7a14" stroke="#f6a35a" stroke-width="0.5"/>
<text transform="translate(72.2 179) scale(0.8 1)" font-family="Liberation Sans, sans-serif" font-weight="700" font-size="7.4" fill="#ffe489">D</text>
<rect x="77.7" y="183.9" width="16" height="9.8" fill="#173f92"/>
<circle cx="85.7" cy="188.8" r="3.2" fill="none" stroke="#d6e3f6" stroke-width="1.1" stroke-dasharray="0.9 0.78"/>
<circle cx="30.8" cy="16.2" r="6.6" fill="#111"/>
<text transform="translate(25.4 20.7) scale(0.72 1)" font-family="Liberation Sans, sans-serif" font-weight="700" font-style="italic" font-size="13.6" fill="#fff" stroke="#fff" stroke-width="0.45" letter-spacing="-0.3">xl</text>
</svg>
<div class="hdr"><div class="vida">vida</div><div class="com">.com</div><div class="num">240984</div></div>
<div class="t" style="left:35.2px;top:32.50px;transform:scaleX(0.888)">Questo apparecchio</div>
<div class="t" style="left:35.2px;top:38.70px;transform:scaleX(0.888)">d&#x27;illuminazione è</div>
<div class="t" style="left:35.2px;top:44.90px;transform:scaleX(0.888)">compatibile con le</div>
<div class="t" style="left:35.2px;top:51.10px;transform:scaleX(0.888)">lampadine delle classi</div>
<div class="t" style="left:35.2px;top:57.30px;transform:scaleX(0.888)">energetiche:</div>
<div class="t" style="left:7.4px;top:159.40px;transform:scaleX(0.888)">L&#x27;apparecchio d&#x27;  illuminazione è</div>
<div class="t" style="left:7.4px;top:165.60px;transform:scaleX(0.888)">venduto con una</div>
<div class="t" style="left:7.4px;top:171.80px;transform:scaleX(0.888)">lampadina della classe</div>
<div class="t" style="left:7.4px;top:178.00px;transform:scaleX(0.888)">energetica:</div>
<div class="reg">874/2012</div>
<div class="lang"><span style="left:111.87px;transform:scaleX(0.792)">I</span><svg class="sf" width="150" height="32" viewBox="0 0 150 32"><rect x="112.1" y="6.3" width="5.65" height="1.6" fill="#4e4e4e"/><rect x="112.1" y="23.55" width="5.65" height="1.6" fill="#4e4e4e"/></svg><span style="left:118.38px;transform:scaleX(0.793)">T</span></div>
</div>
<div class="cell" style="left:150px;top:200px">
<div class="label"></div>
<svg class="g" width="150" height="200" viewBox="0 0 150 200">
<defs>
<linearGradient id="c11ag0" x1="0" x2="1" y1="0" y2="0"><stop offset="0" stop-color="#08934a"/><stop offset="1" stop-color="#2ba34a"/></linearGradient>
<linearGradient id="c11ag1" x1="0" x2="1" y1="0" y2="0"><stop offset="0" stop-color="#3aa947"/><stop offset="1" stop-color="#5bb23c"/></linearGradient>
<linearGradient id="c11ag2" x1="0" x2="1" y1="0" y2="0"><stop offset="0" stop-color="#bfd022"/><stop offset="1" stop-color="#cdd900"/></linearGradient>
<linearGradient id="c11ag3" x1="0" x2="1" y1="0" y2="0"><stop offset="0" stop-color="#f0f000"/><stop offset="1" stop-color="#ffec00"/></linearGradient>
<linearGradient id="c11ag4" x1="0" x2="1" y1="0" y2="0"><stop offset="0" stop-color="#f5bb00"/><stop offset="1" stop-color="#fcc600"/></linearGradient>
<linearGradient id="c11ag5" x1="0" x2="1" y1="0" y2="0"><stop offset="0" stop-color="#ea7410"/><stop offset="1" stop-color="#f27904"/></linearGradient>
<linearGradient id="c11ag6" x1="0" x2="1" y1="0" y2="0"><stop offset="0" stop-color="#d60a1c"/><stop offset="1" stop-color="#ea0814"/></linearGradient>
</defs>
<rect x="3.8" y="2.85" width="92.9" height="194" rx="2.2" fill="none" stroke="#a8f4ff" stroke-width="3.8" opacity="0.8"/>
<rect x="3.8" y="2.85" width="92.9" height="194" rx="2.2" fill="none" stroke="#267aa4" stroke-width="1.65"/>
<path d="M7 29.3 H93.6 M7 158.3 H93.6" stroke="#c4f3fc" stroke-width="5" stroke-linecap="round" opacity="0.6" fill="none"/>
<path d="M7.3 29.3 H93.3 M7.3 158.3 H93.3" stroke="#b4eefa" stroke-width="3" stroke-linecap="round" opacity="0.7" fill="none"/>
<line x1="7.5" y1="29.28" x2="93.1" y2="29.28" stroke="#25779a" stroke-width="1.76" stroke-linecap="round"/>
<line x1="7.5" y1="158.3" x2="93.1" y2="158.3" stroke="#25779a" stroke-width="1.82" stroke-linecap="round"/>
<rect x="8.05" y="37.36" width="24.3" height="24.1" rx="2" fill="none" stroke="#c4f5ff" stroke-width="4.6" opacity="0.6"/>
<rect x="8.05" y="37.36" width="24.3" height="24.1" rx="2" fill="#e3fdff" stroke="#2a7b9d" stroke-width="1.8"/>
<rect x="16" y="43.35" width="7.7" height="0.95" fill="#7f9db2"/>
<path d="M18.6 45 H21.4 Q23.4 46.8 24.8 50 H15.2 Q16.6 46.8 18.6 45 Z" fill="#72c2f6"/>
<g fill="#3fb0ec" stroke="#1f93d8" stroke-width="0.7">
<circle cx="12.0" cy="51.5" r="2.2"/>
<circle cx="17.1" cy="51.2" r="2.35"/>
<circle cx="22.3" cy="51.2" r="2.35"/>
<circle cx="27.6" cy="51.5" r="2.2"/>
</g>
<g fill="#7ccff9">
<circle cx="12.0" cy="51.3" r="0.95"/>
<circle cx="17.1" cy="51.0" r="0.95"/>
<circle cx="22.3" cy="51.0" r="0.95"/>
<circle cx="27.6" cy="51.3" r="0.95"/>
</g>
<path d="M7.3 69.90 H20.50 L24.70 74.70 L20.50 79.50 H7.3 Z" fill="url(#c11ag0)"/>
<path d="M7.3 81.57 H23.50 L27.70 86.37 L23.50 91.17 H7.3 Z" fill="url(#c11ag1)"/>
<path d="M7.3 93.24 H26.50 L30.70 98.04 L26.50 102.84 H7.3 Z" fill="url(#c11ag2)"/>
<path d="M7.3 104.91 H29.50 L33.70 109.71 L29.50 114.51 H7.3 Z" fill="url(#c11ag3)"/>
<path d="M7.3 116.58 H32.50 L36.70 121.38 L32.50 126.18 H7.3 Z" fill="url(#c11ag4)"/>
<path d="M7.3 128.25 H35.50 L39.70 133.05 L35.50 137.85 H7.3 Z" fill="url(#c11ag5)"/>
<path d="M7.3 139.92 H38.50 L42.70 144.72 L38.50 149.52 H7.3 Z" fill="url(#c11ag6)"/>
<text transform="translate(10.5 78.00) scale(0.7 1)" font-family="Liberation Sans, sans-serif" font-weight="700" font-size="8.6" fill="#f0fff2">A<tspan dy="-3.1" font-size="5" fill="#a4f2c0">++</tspan></text>
<text transform="translate(10.5 89.67) scale(0.7 1)" font-family="Liberation Sans, sans-serif" font-weight="700" font-size="8.6" fill="#f4fff0">A<tspan dy="-3.1" font-size="5" fill="#a4f2c0">+</tspan></text>
<text transform="translate(10.5 101.34) scale(0.7 1)" font-family="Liberation Sans, sans-serif" font-weight="700" font-size="8.6" fill="#f2f9b4">A</text>
<text transform="translate(10.5 113.01) scale(0.7 1)" font-family="Liberation Sans, sans-serif" font-weight="700" font-size="8.6" fill="#ffff94">B</text>
<text transform="translate(10.5 124.68) scale(0.7 1)" font-family="Liberation Sans, sans-serif" font-weight="700" font-size="8.6" fill="#fff0a0">C</text>
<text transform="translate(10.5 136.35) scale(0.7 1)" font-family="Liberation Sans, sans-serif" font-weight="700" font-size="8.6" fill="#ffe6b4">D</text>
<text transform="translate(10.5 148.02) scale(0.7 1)" font-family="Liberation Sans, sans-serif" font-weight="700" font-size="8.6" fill="#ffe6e0">E</text>
<path d="M6.4 70.1 L38.5 102.8 M38.5 70 L6.3 102.6" stroke="#8e181e" stroke-width="2.25" stroke-linecap="round" fill="none"/>
<rect x="-1.15" y="-1.15" width="2.3" height="2.3" transform="translate(22.4 86.4) rotate(45)" fill="#d8222c"/>
<path d="M55.2 106.5 H58.4 Q61.2 106.5 61.2 109.6 V124 Q61.2 126.7 64.7 127.3 Q61.2 127.9 61.2 130.6 V145.1 Q61.2 148.2 58.4 148.2 H55.2" stroke="#c8f6ff" stroke-width="4.6" fill="none" stroke-linecap="round" opacity="0.55"/>
<path d="M55.2 106.5 H58.4 Q61.2 106.5 61.2 109.6 V124 Q61.2 126.7 64.7 127.3 Q61.2 127.9 61.2 130.6 V145.1 Q61.2 148.2 58.4 148.2 H55.2" stroke="#1f7aae" stroke-width="1.9" fill="none" stroke-linecap="round"/>
<g transform="translate(72.0 126.3) rotate(49)" fill="none">
<rect x="-6.4" y="-2.1" width="8.6" height="4.2" rx="0.8" fill="#dcfaff" stroke="#6fa5bb" stroke-width="0.7"/>
<path d="M-3.5 -2.1 V2.1 M-0.7 -2.1 V2.1" stroke="#4a97b6" stroke-width="0.75"/>
<path d="M2.2 -1 H6 M2.2 1 H6" stroke="#5d9bb3" stroke-width="0.8"/>
</g>
<path d="M70.1 172.4 H87.9 L91 176.2 L87.9 180 H70.1 Z" fill="#ef7a14" stroke="#f6a35a" stroke-width="0.5"/>
<text transform="translate(72.2 179) scale(0.8 1)" font-family="Liberation Sans, sans-serif" font-weight="700" font-size="7.4" fill="#ffe489">D</text>
<rect x="77.7" y="183.9" width="16" height="9.8" fill="#173f92"/>
<circle cx="85.7" cy="188.8" r="3.2" fill="none" stroke="#d6e3f6" stroke-width="1.1" stroke-dasharray="0.9 0.78"/>
<circle cx="30.8" cy="16.2" r="6.6" fill="#111"/>
<text transform="translate(25.4 20.7) scale(0.72 1)" font-family="Liberation Sans, sans-serif" font-weight="700" font-style="italic" font-size="13.6" fill="#fff" stroke="#fff" stroke-width="0.45" letter-spacing="-0.3">xl</text>
</svg>
<div class="hdr"><div class="vida">vida</div><div class="com">.com</div><div class="num">240984</div></div>
<div class="t" style="left:35.2px;top:36.20px;transform:scaleX(0.869)">Oprawa oświetleniowa</div>
<div class="t" style="left:35.2px;top:42.40px;transform:scaleX(0.869)">jest kompatybilna z</div>
<div class="t" style="left:35.2px;top:48.60px;transform:scaleX(0.869)">żarówkami klas</div>
<div class="t" style="left:35.2px;top:54.80px;transform:scaleX(0.869)">energetycznych:</div>
<div class="t" style="left:7.4px;top:162.50px;transform:scaleX(0.869)">Oprawa oświetleniowa sprzedawana</div>
<div class="t" style="left:7.4px;top:168.70px;transform:scaleX(0.869)">jest z żarówką klasy</div>
<div class="t" style="left:7.4px;top:174.90px;transform:scaleX(0.869)">energetycznej:</div>
<div class="reg">874/2012</div>
<div class="lang"><span style="left:110.79px;transform:scaleX(0.714)">P</span><span style="left:124.97px;transform:scaleX(0.744)">L</span></div>
</div>
<div class="cell" style="left:300px;top:200px">
<div class="label"></div>
<svg class="g" width="150" height="200" viewBox="0 0 150 200">
<defs>
<linearGradient id="c21ag0" x1="0" x2="1" y1="0" y2="0"><stop offset="0" stop-color="#08934a"/><stop offset="1" stop-color="#2ba34a"/></linearGradient>
<linearGradient id="c21ag1" x1="0" x2="1" y1="0" y2="0"><stop offset="0" stop-color="#3aa947"/><stop offset="1" stop-color="#5bb23c"/></linearGradient>
<linearGradient id="c21ag2" x1="0" x2="1" y1="0" y2="0"><stop offset="0" stop-color="#bfd022"/><stop offset="1" stop-color="#cdd900"/></linearGradient>
<linearGradient id="c21ag3" x1="0" x2="1" y1="0" y2="0"><stop offset="0" stop-color="#f0f000"/><stop offset="1" stop-color="#ffec00"/></linearGradient>
<linearGradient id="c21ag4" x1="0" x2="1" y1="0" y2="0"><stop offset="0" stop-color="#f5bb00"/><stop offset="1" stop-color="#fcc600"/></linearGradient>
<linearGradient id="c21ag5" x1="0" x2="1" y1="0" y2="0"><stop offset="0" stop-color="#ea7410"/><stop offset="1" stop-color="#f27904"/></linearGradient>
<linearGradient id="c21ag6" x1="0" x2="1" y1="0" y2="0"><stop offset="0" stop-color="#d60a1c"/><stop offset="1" stop-color="#ea0814"/></linearGradient>
</defs>
<rect x="3.8" y="2.85" width="92.9" height="194" rx="2.2" fill="none" stroke="#a8f4ff" stroke-width="3.8" opacity="0.8"/>
<rect x="3.8" y="2.85" width="92.9" height="194" rx="2.2" fill="none" stroke="#267aa4" stroke-width="1.65"/>
<path d="M7 29.3 H93.6 M7 158.3 H93.6" stroke="#c4f3fc" stroke-width="5" stroke-linecap="round" opacity="0.6" fill="none"/>
<path d="M7.3 29.3 H93.3 M7.3 158.3 H93.3" stroke="#b4eefa" stroke-width="3" stroke-linecap="round" opacity="0.7" fill="none"/>
<line x1="7.5" y1="29.28" x2="93.1" y2="29.28" stroke="#25779a" stroke-width="1.76" stroke-linecap="round"/>
<line x1="7.5" y1="158.3" x2="93.1" y2="158.3" stroke="#25779a" stroke-width="1.82" stroke-linecap="round"/>
<rect x="8.05" y="37.36" width="24.3" height="24.1" rx="2" fill="none" stroke="#c4f5ff" stroke-width="4.6" opacity="0.6"/>
<rect x="8.05" y="37.36" width="24.3" height="24.1" rx="2" fill="#e3fdff" stroke="#2a7b9d" stroke-width="1.8"/>
<rect x="16" y="43.35" width="7.7" height="0.95" fill="#7f9db2"/>
<path d="M18.6 45 H21.4 Q23.4 46.8 24.8 50 H15.2 Q16.6 46.8 18.6 45 Z" fill="#72c2f6"/>
<g fill="#3fb0ec" stroke="#1f93d8" stroke-width="0.7">
<circle cx="12.0" cy="51.5" r="2.2"/>
<circle cx="17.1" cy="51.2" r="2.35"/>
<circle cx="22.3" cy="51.2" r="2.35"/>
<circle cx="27.6" cy="51.5" r="2.2"/>
</g>
<g fill="#7ccff9">
<circle cx="12.0" cy="51.3" r="0.95"/>
<circle cx="17.1" cy="51.0" r="0.95"/>
<circle cx="22.3" cy="51.0" r="0.95"/>
<circle cx="27.6" cy="51.3" r="0.95"/>
</g>
<path d="M7.3 69.90 H20.50 L24.70 74.70 L20.50 79.50 H7.3 Z" fill="url(#c21ag0)"/>
<path d="M7.3 81.57 H23.50 L27.70 86.37 L23.50 91.17 H7.3 Z" fill="url(#c21ag1)"/>
<path d="M7.3 93.24 H26.50 L30.70 98.04 L26.50 102.84 H7.3 Z" fill="url(#c21ag2)"/>
<path d="M7.3 104.91 H29.50 L33.70 109.71 L29.50 114.51 H7.3 Z" fill="url(#c21ag3)"/>
<path d="M7.3 116.58 H32.50 L36.70 121.38 L32.50 126.18 H7.3 Z" fill="url(#c21ag4)"/>
<path d="M7.3 128.25 H35.50 L39.70 133.05 L35.50 137.85 H7.3 Z" fill="url(#c21ag5)"/>
<path d="M7.3 139.92 H38.50 L42.70 144.72 L38.50 149.52 H7.3 Z" fill="url(#c21ag6)"/>
<text transform="translate(10.5 78.00) scale(0.7 1)" font-family="Liberation Sans, sans-serif" font-weight="700" font-size="8.6" fill="#f0fff2">A<tspan dy="-3.1" font-size="5" fill="#a4f2c0">++</tspan></text>
<text transform="translate(10.5 89.67) scale(0.7 1)" font-family="Liberation Sans, sans-serif" font-weight="700" font-size="8.6" fill="#f4fff0">A<tspan dy="-3.1" font-size="5" fill="#a4f2c0">+</tspan></text>
<text transform="translate(10.5 101.34) scale(0.7 1)" font-family="Liberation Sans, sans-serif" font-weight="700" font-size="8.6" fill="#f2f9b4">A</text>
<text transform="translate(10.5 113.01) scale(0.7 1)" font-family="Liberation Sans, sans-serif" font-weight="700" font-size="8.6" fill="#ffff94">B</text>
<text transform="translate(10.5 124.68) scale(0.7 1)" font-family="Liberation Sans, sans-serif" font-weight="700" font-size="8.6" fill="#fff0a0">C</text>
<text transform="translate(10.5 136.35) scale(0.7 1)" font-family="Liberation Sans, sans-serif" font-weight="700" font-size="8.6" fill="#ffe6b4">D</text>
<text transform="translate(10.5 148.02) scale(0.7 1)" font-family="Liberation Sans, sans-serif" font-weight="700" font-size="8.6" fill="#ffe6e0">E</text>
<path d="M6.4 70.1 L38.5 102.8 M38.5 70 L6.3 102.6" stroke="#8e181e" stroke-width="2.25" stroke-linecap="round" fill="none"/>
<rect x="-1.15" y="-1.15" width="2.3" height="2.3" transform="translate(22.4 86.4) rotate(45)" fill="#d8222c"/>
<path d="M55.2 106.5 H58.4 Q61.2 106.5 61.2 109.6 V124 Q61.2 126.7 64.7 127.3 Q61.2 127.9 61.2 130.6 V145.1 Q61.2 148.2 58.4 148.2 H55.2" stroke="#c8f6ff" stroke-width="4.6" fill="none" stroke-linecap="round" opacity="0.55"/>
<path d="M55.2 106.5 H58.4 Q61.2 106.5 61.2 109.6 V124 Q61.2 126.7 64.7 127.3 Q61.2 127.9 61.2 130.6 V145.1 Q61.2 148.2 58.4 148.2 H55.2" stroke="#1f7aae" stroke-width="1.9" fill="none" stroke-linecap="round"/>
<g transform="translate(72.0 126.3) rotate(49)" fill="none">
<rect x="-6.4" y="-2.1" width="8.6" height="4.2" rx="0.8" fill="#dcfaff" stroke="#6fa5bb" stroke-width="0.7"/>
<path d="M-3.5 -2.1 V2.1 M-0.7 -2.1 V2.1" stroke="#4a97b6" stroke-width="0.75"/>
<path d="M2.2 -1 H6 M2.2 1 H6" stroke="#5d9bb3" stroke-width="0.8"/>
</g>
<path d="M70.1 172.4 H87.9 L91 176.2 L87.9 180 H70.1 Z" fill="#ef7a14" stroke="#f6a35a" stroke-width="0.5"/>
<text transform="translate(72.2 179) scale(0.8 1)" font-family="Liberation Sans, sans-serif" font-weight="700" font-size="7.4" fill="#ffe489">D</text>
<rect x="77.7" y="183.9" width="16" height="9.8" fill="#173f92"/>
<circle cx="85.7" cy="188.8" r="3.2" fill="none" stroke="#d6e3f6" stroke-width="1.1" stroke-dasharray="0.9 0.78"/>
<circle cx="30.8" cy="16.2" r="6.6" fill="#111"/>
<text transform="translate(25.4 20.7) scale(0.72 1)" font-family="Liberation Sans, sans-serif" font-weight="700" font-style="italic" font-size="13.6" fill="#fff" stroke="#fff" stroke-width="0.45" letter-spacing="-0.3">xl</text>
</svg>
<div class="hdr"><div class="vida">vida</div><div class="com">.com</div><div class="num">240984</div></div>
<div class="t" style="left:35.2px;top:36.20px;transform:scaleX(0.886)">Denna armatur är</div>
<div class="t" style="left:35.2px;top:42.40px;transform:scaleX(0.886)">kompatibel med</div>
<div class="t" style="left:35.2px;top:48.60px;transform:scaleX(0.886)">lampor av följande</div>
<div class="t" style="left:35.2px;top:54.80px;transform:scaleX(0.886)">energiklasser:</div>
<div class="t" style="left:7.4px;top:164.70px;transform:scaleX(0.886)">Armaturen säljs med en lampa</div>
<div class="t" style="left:7.4px;top:170.90px;transform:scaleX(0.886)">av energiklassen:</div>
<div class="reg">874/2012</div>
<div class="lang"><span style="left:111.36px;transform:scaleX(0.681)">S</span><span style="left:124.88px;transform:scaleX(0.636)">E</span></div>
</div>
<div class="cell" style="left:450px;top:200px">
<div class="label"></div>
<svg class="g" width="150" height="200" viewBox="0 0 150 200">
<defs>
<linearGradient id="c31ag0" x1="0" x2="1" y1="0" y2="0"><stop offset="0" stop-color="#08934a"/><stop offset="1" stop-color="#2ba34a"/></linearGradient>
<linearGradient id="c31ag1" x1="0" x2="1" y1="0" y2="0"><stop offset="0" stop-color="#3aa947"/><stop offset="1" stop-color="#5bb23c"/></linearGradient>
<linearGradient id="c31ag2" x1="0" x2="1" y1="0" y2="0"><stop offset="0" stop-color="#bfd022"/><stop offset="1" stop-color="#cdd900"/></linearGradient>
<linearGradient id="c31ag3" x1="0" x2="1" y1="0" y2="0"><stop offset="0" stop-color="#f0f000"/><stop offset="1" stop-color="#ffec00"/></linearGradient>
<linearGradient id="c31ag4" x1="0" x2="1" y1="0" y2="0"><stop offset="0" stop-color="#f5bb00"/><stop offset="1" stop-color="#fcc600"/></linearGradient>
<linearGradient id="c31ag5" x1="0" x2="1" y1="0" y2="0"><stop offset="0" stop-color="#ea7410"/><stop offset="1" stop-color="#f27904"/></linearGradient>
<linearGradient id="c31ag6" x1="0" x2="1" y1="0" y2="0"><stop offset="0" stop-color="#d60a1c"/><stop offset="1" stop-color="#ea0814"/></linearGradient>
</defs>
<rect x="3.8" y="2.85" width="92.9" height="194" rx="2.2" fill="none" stroke="#a8f4ff" stroke-width="3.8" opacity="0.8"/>
<rect x="3.8" y="2.85" width="92.9" height="194" rx="2.2" fill="none" stroke="#267aa4" stroke-width="1.65"/>
<path d="M7 29.3 H93.6 M7 158.3 H93.6" stroke="#c4f3fc" stroke-width="5" stroke-linecap="round" opacity="0.6" fill="none"/>
<path d="M7.3 29.3 H93.3 M7.3 158.3 H93.3" stroke="#b4eefa" stroke-width="3" stroke-linecap="round" opacity="0.7" fill="none"/>
<line x1="7.5" y1="29.28" x2="93.1" y2="29.28" stroke="#25779a" stroke-width="1.76" stroke-linecap="round"/>
<line x1="7.5" y1="158.3" x2="93.1" y2="158.3" stroke="#25779a" stroke-width="1.82" stroke-linecap="round"/>
<rect x="8.05" y="37.36" width="24.3" height="24.1" rx="2" fill="none" stroke="#c4f5ff" stroke-width="4.6" opacity="0.6"/>
<rect x="8.05" y="37.36" width="24.3" height="24.1" rx="2" fill="#e3fdff" stroke="#2a7b9d" stroke-width="1.8"/>
<rect x="16" y="43.35" width="7.7" height="0.95" fill="#7f9db2"/>
<path d="M18.6 45 H21.4 Q23.4 46.8 24.8 50 H15.2 Q16.6 46.8 18.6 45 Z" fill="#72c2f6"/>
<g fill="#3fb0ec" stroke="#1f93d8" stroke-width="0.7">
<circle cx="12.0" cy="51.5" r="2.2"/>
<circle cx="17.1" cy="51.2" r="2.35"/>
<circle cx="22.3" cy="51.2" r="2.35"/>
<circle cx="27.6" cy="51.5" r="2.2"/>
</g>
<g fill="#7ccff9">
<circle cx="12.0" cy="51.3" r="0.95"/>
<circle cx="17.1" cy="51.0" r="0.95"/>
<circle cx="22.3" cy="51.0" r="0.95"/>
<circle cx="27.6" cy="51.3" r="0.95"/>
</g>
<path d="M7.3 69.90 H20.50 L24.70 74.70 L20.50 79.50 H7.3 Z" fill="url(#c31ag0)"/>
<path d="M7.3 81.57 H23.50 L27.70 86.37 L23.50 91.17 H7.3 Z" fill="url(#c31ag1)"/>
<path d="M7.3 93.24 H26.50 L30.70 98.04 L26.50 102.84 H7.3 Z" fill="url(#c31ag2)"/>
<path d="M7.3 104.91 H29.50 L33.70 109.71 L29.50 114.51 H7.3 Z" fill="url(#c31ag3)"/>
<path d="M7.3 116.58 H32.50 L36.70 121.38 L32.50 126.18 H7.3 Z" fill="url(#c31ag4)"/>
<path d="M7.3 128.25 H35.50 L39.70 133.05 L35.50 137.85 H7.3 Z" fill="url(#c31ag5)"/>
<path d="M7.3 139.92 H38.50 L42.70 144.72 L38.50 149.52 H7.3 Z" fill="url(#c31ag6)"/>
<text transform="translate(10.5 78.00) scale(0.7 1)" font-family="Liberation Sans, sans-serif" font-weight="700" font-size="8.6" fill="#f0fff2">A<tspan dy="-3.1" font-size="5" fill="#a4f2c0">++</tspan></text>
<text transform="translate(10.5 89.67) scale(0.7 1)" font-family="Liberation Sans, sans-serif" font-weight="700" font-size="8.6" fill="#f4fff0">A<tspan dy="-3.1" font-size="5" fill="#a4f2c0">+</tspan></text>
<text transform="translate(10.5 101.34) scale(0.7 1)" font-family="Liberation Sans, sans-serif" font-weight="700" font-size="8.6" fill="#f2f9b4">A</text>
<text transform="translate(10.5 113.01) scale(0.7 1)" font-family="Liberation Sans, sans-serif" font-weight="700" font-size="8.6" fill="#ffff94">B</text>
<text transform="translate(10.5 124.68) scale(0.7 1)" font-family="Liberation Sans, sans-serif" font-weight="700" font-size="8.6" fill="#fff0a0">C</text>
<text transform="translate(10.5 136.35) scale(0.7 1)" font-family="Liberation Sans, sans-serif" font-weight="700" font-size="8.6" fill="#ffe6b4">D</text>
<text transform="translate(10.5 148.02) scale(0.7 1)" font-family="Liberation Sans, sans-serif" font-weight="700" font-size="8.6" fill="#ffe6e0">E</text>
<path d="M6.4 70.1 L38.5 102.8 M38.5 70 L6.3 102.6" stroke="#8e181e" stroke-width="2.25" stroke-linecap="round" fill="none"/>
<rect x="-1.15" y="-1.15" width="2.3" height="2.3" transform="translate(22.4 86.4) rotate(45)" fill="#d8222c"/>
<path d="M55.2 106.5 H58.4 Q61.2 106.5 61.2 109.6 V124 Q61.2 126.7 64.7 127.3 Q61.2 127.9 61.2 130.6 V145.1 Q61.2 148.2 58.4 148.2 H55.2" stroke="#c8f6ff" stroke-width="4.6" fill="none" stroke-linecap="round" opacity="0.55"/>
<path d="M55.2 106.5 H58.4 Q61.2 106.5 61.2 109.6 V124 Q61.2 126.7 64.7 127.3 Q61.2 127.9 61.2 130.6 V145.1 Q61.2 148.2 58.4 148.2 H55.2" stroke="#1f7aae" stroke-width="1.9" fill="none" stroke-linecap="round"/>
<g transform="translate(72.0 126.3) rotate(49)" fill="none">
<rect x="-6.4" y="-2.1" width="8.6" height="4.2" rx="0.8" fill="#dcfaff" stroke="#6fa5bb" stroke-width="0.7"/>
<path d="M-3.5 -2.1 V2.1 M-0.7 -2.1 V2.1" stroke="#4a97b6" stroke-width="0.75"/>
<path d="M2.2 -1 H6 M2.2 1 H6" stroke="#5d9bb3" stroke-width="0.8"/>
</g>
<path d="M70.1 172.4 H87.9 L91 176.2 L87.9 180 H70.1 Z" fill="#ef7a14" stroke="#f6a35a" stroke-width="0.5"/>
<text transform="translate(72.2 179) scale(0.8 1)" font-family="Liberation Sans, sans-serif" font-weight="700" font-size="7.4" fill="#ffe489">D</text>
<rect x="77.7" y="183.9" width="16" height="9.8" fill="#173f92"/>
<circle cx="85.7" cy="188.8" r="3.2" fill="none" stroke="#d6e3f6" stroke-width="1.1" stroke-dasharray="0.9 0.78"/>
<circle cx="30.8" cy="16.2" r="6.6" fill="#111"/>
<text transform="translate(25.4 20.7) scale(0.72 1)" font-family="Liberation Sans, sans-serif" font-weight="700" font-style="italic" font-size="13.6" fill="#fff" stroke="#fff" stroke-width="0.45" letter-spacing="-0.3">xl</text>
</svg>
<div class="hdr"><div class="vida">vida</div><div class="com">.com</div><div class="num">240984</div></div>
<div class="t" style="left:35.2px;top:36.20px;transform:scaleX(0.868)">Esta luminaria es</div>
<div class="t" style="left:35.2px;top:42.40px;transform:scaleX(0.868)">compatible con las</div>
<div class="t" style="left:35.2px;top:48.60px;transform:scaleX(0.868)">bombillas de las clases</div>
<div class="t" style="left:35.2px;top:54.80px;transform:scaleX(0.868)">de la energía:</div>
<div class="t" style="left:7.4px;top:162.50px;transform:scaleX(0.868)">La luminaria se vende con una</div>
<div class="t" style="left:7.4px;top:168.70px;transform:scaleX(0.868)">lámpara de la clase de</div>
<div class="t" style="left:7.4px;top:174.90px;transform:scaleX(0.868)">energía:</div>
<div class="reg">874/2012</div>
<div class="lang"><span style="left:110.57px;transform:scaleX(0.640)">E</span><span style="left:123.01px;transform:scaleX(0.678)">S</span></div>
</div>
<div class="cell" style="left:0px;top:400px">
<div class="label"></div>
<svg class="g" width="150" height="200" viewBox="0 0 150 200">
<defs>
<linearGradient id="c02ag0" x1="0" x2="1" y1="0" y2="0"><stop offset="0" stop-color="#08934a"/><stop offset="1" stop-color="#2ba34a"/></linearGradient>
<linearGradient id="c02ag1" x1="0" x2="1" y1="0" y2="0"><stop offset="0" stop-color="#3aa947"/><stop offset="1" stop-color="#5bb23c"/></linearGradient>
<linearGradient id="c02ag2" x1="0" x2="1" y1="0" y2="0"><stop offset="0" stop-color="#bfd022"/><stop offset="1" stop-color="#cdd900"/></linearGradient>
<linearGradient id="c02ag3" x1="0" x2="1" y1="0" y2="0"><stop offset="0" stop-color="#f0f000"/><stop offset="1" stop-color="#ffec00"/></linearGradient>
<linearGradient id="c02ag4" x1="0" x2="1" y1="0" y2="0"><stop offset="0" stop-color="#f5bb00"/><stop offset="1" stop-color="#fcc600"/></linearGradient>
<linearGradient id="c02ag5" x1="0" x2="1" y1="0" y2="0"><stop offset="0" stop-color="#ea7410"/><stop offset="1" stop-color="#f27904"/></linearGradient>
<linearGradient id="c02ag6" x1="0" x2="1" y1="0" y2="0"><stop offset="0" stop-color="#d60a1c"/><stop offset="1" stop-color="#ea0814"/></linearGradient>
</defs>
<rect x="3.8" y="2.85" width="92.9" height="194" rx="2.2" fill="none" stroke="#a8f4ff" stroke-width="3.8" opacity="0.8"/>
<rect x="3.8" y="2.85" width="92.9" height="194" rx="2.2" fill="none" stroke="#267aa4" stroke-width="1.65"/>
<path d="M7 29.3 H93.6 M7 158.3 H93.6" stroke="#c4f3fc" stroke-width="5" stroke-linecap="round" opacity="0.6" fill="none"/>
<path d="M7.3 29.3 H93.3 M7.3 158.3 H93.3" stroke="#b4eefa" stroke-width="3" stroke-linecap="round" opacity="0.7" fill="none"/>
<line x1="7.5" y1="29.28" x2="93.1" y2="29.28" stroke="#25779a" stroke-width="1.76" stroke-linecap="round"/>
<line x1="7.5" y1="158.3" x2="93.1" y2="158.3" stroke="#25779a" stroke-width="1.82" stroke-linecap="round"/>
<rect x="8.05" y="37.36" width="24.3" height="24.1" rx="2" fill="none" stroke="#c4f5ff" stroke-width="4.6" opacity="0.6"/>
<rect x="8.05" y="37.36" width="24.3" height="24.1" rx="2" fill="#e3fdff" stroke="#2a7b9d" stroke-width="1.8"/>
<rect x="16" y="43.35" width="7.7" height="0.95" fill="#7f9db2"/>
<path d="M18.6 45 H21.4 Q23.4 46.8 24.8 50 H15.2 Q16.6 46.8 18.6 45 Z" fill="#72c2f6"/>
<g fill="#3fb0ec" stroke="#1f93d8" stroke-width="0.7">
<circle cx="12.0" cy="51.5" r="2.2"/>
<circle cx="17.1" cy="51.2" r="2.35"/>
<circle cx="22.3" cy="51.2" r="2.35"/>
<circle cx="27.6" cy="51.5" r="2.2"/>
</g>
<g fill="#7ccff9">
<circle cx="12.0" cy="51.3" r="0.95"/>
<circle cx="17.1" cy="51.0" r="0.95"/>
<circle cx="22.3" cy="51.0" r="0.95"/>
<circle cx="27.6" cy="51.3" r="0.95"/>
</g>
<path d="M7.3 69.90 H20.50 L24.70 74.70 L20.50 79.50 H7.3 Z" fill="url(#c02ag0)"/>
<path d="M7.3 81.57 H23.50 L27.70 86.37 L23.50 91.17 H7.3 Z" fill="url(#c02ag1)"/>
<path d="M7.3 93.24 H26.50 L30.70 98.04 L26.50 102.84 H7.3 Z" fill="url(#c02ag2)"/>
<path d="M7.3 104.91 H29.50 L33.70 109.71 L29.50 114.51 H7.3 Z" fill="url(#c02ag3)"/>
<path d="M7.3 116.58 H32.50 L36.70 121.38 L32.50 126.18 H7.3 Z" fill="url(#c02ag4)"/>
<path d="M7.3 128.25 H35.50 L39.70 133.05 L35.50 137.85 H7.3 Z" fill="url(#c02ag5)"/>
<path d="M7.3 139.92 H38.50 L42.70 144.72 L38.50 149.52 H7.3 Z" fill="url(#c02ag6)"/>
<text transform="translate(10.5 78.00) scale(0.7 1)" font-family="Liberation Sans, sans-serif" font-weight="700" font-size="8.6" fill="#f0fff2">A<tspan dy="-3.1" font-size="5" fill="#a4f2c0">++</tspan></text>
<text transform="translate(10.5 89.67) scale(0.7 1)" font-family="Liberation Sans, sans-serif" font-weight="700" font-size="8.6" fill="#f4fff0">A<tspan dy="-3.1" font-size="5" fill="#a4f2c0">+</tspan></text>
<text transform="translate(10.5 101.34) scale(0.7 1)" font-family="Liberation Sans, sans-serif" font-weight="700" font-size="8.6" fill="#f2f9b4">A</text>
<text transform="translate(10.5 113.01) scale(0.7 1)" font-family="Liberation Sans, sans-serif" font-weight="700" font-size="8.6" fill="#ffff94">B</text>
<text transform="translate(10.5 124.68) scale(0.7 1)" font-family="Liberation Sans, sans-serif" font-weight="700" font-size="8.6" fill="#fff0a0">C</text>
<text transform="translate(10.5 136.35) scale(0.7 1)" font-family="Liberation Sans, sans-serif" font-weight="700" font-size="8.6" fill="#ffe6b4">D</text>
<text transform="translate(10.5 148.02) scale(0.7 1)" font-family="Liberation Sans, sans-serif" font-weight="700" font-size="8.6" fill="#ffe6e0">E</text>
<path d="M6.4 70.1 L38.5 102.8 M38.5 70 L6.3 102.6" stroke="#8e181e" stroke-width="2.25" stroke-linecap="round" fill="none"/>
<rect x="-1.15" y="-1.15" width="2.3" height="2.3" transform="translate(22.4 86.4) rotate(45)" fill="#d8222c"/>
<path d="M55.2 106.5 H58.4 Q61.2 106.5 61.2 109.6 V124 Q61.2 126.7 64.7 127.3 Q61.2 127.9 61.2 130.6 V145.1 Q61.2 148.2 58.4 148.2 H55.2" stroke="#c8f6ff" stroke-width="4.6" fill="none" stroke-linecap="round" opacity="0.55"/>
<path d="M55.2 106.5 H58.4 Q61.2 106.5 61.2 109.6 V124 Q61.2 126.7 64.7 127.3 Q61.2 127.9 61.2 130.6 V145.1 Q61.2 148.2 58.4 148.2 H55.2" stroke="#1f7aae" stroke-width="1.9" fill="none" stroke-linecap="round"/>
<g transform="translate(72.0 126.3) rotate(49)" fill="none">
<rect x="-6.4" y="-2.1" width="8.6" height="4.2" rx="0.8" fill="#dcfaff" stroke="#6fa5bb" stroke-width="0.7"/>
<path d="M-3.5 -2.1 V2.1 M-0.7 -2.1 V2.1" stroke="#4a97b6" stroke-width="0.75"/>
<path d="M2.2 -1 H6 M2.2 1 H6" stroke="#5d9bb3" stroke-width="0.8"/>
</g>
<path d="M70.1 172.4 H87.9 L91 176.2 L87.9 180 H70.1 Z" fill="#ef7a14" stroke="#f6a35a" stroke-width="0.5"/>
<text transform="translate(72.2 179) scale(0.8 1)" font-family="Liberation Sans, sans-serif" font-weight="700" font-size="7.4" fill="#ffe489">D</text>
<rect x="77.7" y="183.9" width="16" height="9.8" fill="#173f92"/>
<circle cx="85.7" cy="188.8" r="3.2" fill="none" stroke="#d6e3f6" stroke-width="1.1" stroke-dasharray="0.9 0.78"/>
<circle cx="30.8" cy="16.2" r="6.6" fill="#111"/>
<text transform="translate(25.4 20.7) scale(0.72 1)" font-family="Liberation Sans, sans-serif" font-weight="700" font-style="italic" font-size="13.6" fill="#fff" stroke="#fff" stroke-width="0.45" letter-spacing="-0.3">xl</text>
</svg>
<div class="hdr"><div class="vida">vida</div><div class="com">.com</div><div class="num">240984</div></div>
<div class="t" style="left:35.2px;top:38.50px;transform:scaleX(0.886)">Esta luminária é</div>
<div class="t" style="left:35.2px;top:44.70px;transform:scaleX(0.886)">compatível com bulbos</div>
<div class="t" style="left:35.2px;top:50.90px;transform:scaleX(0.886)">das classes de energia:</div>
<div class="t" style="left:7.4px;top:162.50px;transform:scaleX(0.886)">A luminária é vendido com uma</div>
<div class="t" style="left:7.4px;top:168.70px;transform:scaleX(0.886)">lâmpada da classe de</div>
<div class="t" style="left:7.4px;top:174.90px;transform:scaleX(0.886)">eficiência energética:</div>
<div class="reg">874/2012</div>
<div class="lang"><span style="left:110.79px;transform:scaleX(0.714)">P</span><span style="left:123.98px;transform:scaleX(0.797)">T</span></div>
</div>
<div class="cell" style="left:150px;top:400px">
<div class="label"></div>
<svg class="g" width="150" height="200" viewBox="0 0 150 200">
<defs>
<linearGradient id="c12ag0" x1="0" x2="1" y1="0" y2="0"><stop offset="0" stop-color="#08934a"/><stop offset="1" stop-color="#2ba34a"/></linearGradient>
<linearGradient id="c12ag1" x1="0" x2="1" y1="0" y2="0"><stop offset="0" stop-color="#3aa947"/><stop offset="1" stop-color="#5bb23c"/></linearGradient>
<linearGradient id="c12ag2" x1="0" x2="1" y1="0" y2="0"><stop offset="0" stop-color="#bfd022"/><stop offset="1" stop-color="#cdd900"/></linearGradient>
<linearGradient id="c12ag3" x1="0" x2="1" y1="0" y2="0"><stop offset="0" stop-color="#f0f000"/><stop offset="1" stop-color="#ffec00"/></linearGradient>
<linearGradient id="c12ag4" x1="0" x2="1" y1="0" y2="0"><stop offset="0" stop-color="#f5bb00"/><stop offset="1" stop-color="#fcc600"/></linearGradient>
<linearGradient id="c12ag5" x1="0" x2="1" y1="0" y2="0"><stop offset="0" stop-color="#ea7410"/><stop offset="1" stop-color="#f27904"/></linearGradient>
<linearGradient id="c12ag6" x1="0" x2="1" y1="0" y2="0"><stop offset="0" stop-color="#d60a1c"/><stop offset="1" stop-color="#ea0814"/></linearGradient>
</defs>
<rect x="3.8" y="2.85" width="92.9" height="194" rx="2.2" fill="none" stroke="#a8f4ff" stroke-width="3.8" opacity="0.8"/>
<rect x="3.8" y="2.85" width="92.9" height="194" rx="2.2" fill="none" stroke="#267aa4" stroke-width="1.65"/>
<path d="M7 29.3 H93.6 M7 158.3 H93.6" stroke="#c4f3fc" stroke-width="5" stroke-linecap="round" opacity="0.6" fill="none"/>
<path d="M7.3 29.3 H93.3 M7.3 158.3 H93.3" stroke="#b4eefa" stroke-width="3" stroke-linecap="round" opacity="0.7" fill="none"/>
<line x1="7.5" y1="29.28" x2="93.1" y2="29.28" stroke="#25779a" stroke-width="1.76" stroke-linecap="round"/>
<line x1="7.5" y1="158.3" x2="93.1" y2="158.3" stroke="#25779a" stroke-width="1.82" stroke-linecap="round"/>
<rect x="8.05" y="37.36" width="24.3" height="24.1" rx="2" fill="none" stroke="#c4f5ff" stroke-width="4.6" opacity="0.6"/>
<rect x="8.05" y="37.36" width="24.3" height="24.1" rx="2" fill="#e3fdff" stroke="#2a7b9d" stroke-width="1.8"/>
<rect x="16" y="43.35" width="7.7" height="0.95" fill="#7f9db2"/>
<path d="M18.6 45 H21.4 Q23.4 46.8 24.8 50 H15.2 Q16.6 46.8 18.6 45 Z" fill="#72c2f6"/>
<g fill="#3fb0ec" stroke="#1f93d8" stroke-width="0.7">
<circle cx="12.0" cy="51.5" r="2.2"/>
<circle cx="17.1" cy="51.2" r="2.35"/>
<circle cx="22.3" cy="51.2" r="2.35"/>
<circle cx="27.6" cy="51.5" r="2.2"/>
</g>
<g fill="#7ccff9">
<circle cx="12.0" cy="51.3" r="0.95"/>
<circle cx="17.1" cy="51.0" r="0.95"/>
<circle cx="22.3" cy="51.0" r="0.95"/>
<circle cx="27.6" cy="51.3" r="0.95"/>
</g>
<path d="M7.3 69.90 H20.50 L24.70 74.70 L20.50 79.50 H7.3 Z" fill="url(#c12ag0)"/>
<path d="M7.3 81.57 H23.50 L27.70 86.37 L23.50 91.17 H7.3 Z" fill="url(#c12ag1)"/>
<path d="M7.3 93.24 H26.50 L30.70 98.04 L26.50 102.84 H7.3 Z" fill="url(#c12ag2)"/>
<path d="M7.3 104.91 H29.50 L33.70 109.71 L29.50 114.51 H7.3 Z" fill="url(#c12ag3)"/>
<path d="M7.3 116.58 H32.50 L36.70 121.38 L32.50 126.18 H7.3 Z" fill="url(#c12ag4)"/>
<path d="M7.3 128.25 H35.50 L39.70 133.05 L35.50 137.85 H7.3 Z" fill="url(#c12ag5)"/>
<path d="M7.3 139.92 H38.50 L42.70 144.72 L38.50 149.52 H7.3 Z" fill="url(#c12ag6)"/>
<text transform="translate(10.5 78.00) scale(0.7 1)" font-family="Liberation Sans, sans-serif" font-weight="700" font-size="8.6" fill="#f0fff2">A<tspan dy="-3.1" font-size="5" fill="#a4f2c0">++</tspan></text>
<text transform="translate(10.5 89.67) scale(0.7 1)" font-family="Liberation Sans, sans-serif" font-weight="700" font-size="8.6" fill="#f4fff0">A<tspan dy="-3.1" font-size="5" fill="#a4f2c0">+</tspan></text>
<text transform="translate(10.5 101.34) scale(0.7 1)" font-family="Liberation Sans, sans-serif" font-weight="700" font-size="8.6" fill="#f2f9b4">A</text>
<text transform="translate(10.5 113.01) scale(0.7 1)" font-family="Liberation Sans, sans-serif" font-weight="700" font-size="8.6" fill="#ffff94">B</text>
<text transform="translate(10.5 124.68) scale(0.7 1)" font-family="Liberation Sans, sans-serif" font-weight="700" font-size="8.6" fill="#fff0a0">C</text>
<text transform="translate(10.5 136.35) scale(0.7 1)" font-family="Liberation Sans, sans-serif" font-weight="700" font-size="8.6" fill="#ffe6b4">D</text>
<text transform="translate(10.5 148.02) scale(0.7 1)" font-family="Liberation Sans, sans-serif" font-weight="700" font-size="8.6" fill="#ffe6e0">E</text>
<path d="M6.4 70.1 L38.5 102.8 M38.5 70 L6.3 102.6" stroke="#8e181e" stroke-width="2.25" stroke-linecap="round" fill="none"/>
<rect x="-1.15" y="-1.15" width="2.3" height="2.3" transform="translate(22.4 86.4) rotate(45)" fill="#d8222c"/>
<path d="M55.2 106.5 H58.4 Q61.2 106.5 61.2 109.6 V124 Q61.2 126.7 64.7 127.3 Q61.2 127.9 61.2 130.6 V145.1 Q61.2 148.2 58.4 148.2 H55.2" stroke="#c8f6ff" stroke-width="4.6" fill="none" stroke-linecap="round" opacity="0.55"/>
<path d="M55.2 106.5 H58.4 Q61.2 106.5 61.2 109.6 V124 Q61.2 126.7 64.7 127.3 Q61.2 127.9 61.2 130.6 V145.1 Q61.2 148.2 58.4 148.2 H55.2" stroke="#1f7aae" stroke-width="1.9" fill="none" stroke-linecap="round"/>
<g transform="translate(72.0 126.3) rotate(49)" fill="none">
<rect x="-6.4" y="-2.1" width="8.6" height="4.2" rx="0.8" fill="#dcfaff" stroke="#6fa5bb" stroke-width="0.7"/>
<path d="M-3.5 -2.1 V2.1 M-0.7 -2.1 V2.1" stroke="#4a97b6" stroke-width="0.75"/>
<path d="M2.2 -1 H6 M2.2 1 H6" stroke="#5d9bb3" stroke-width="0.8"/>
</g>
<path d="M70.1 172.4 H87.9 L91 176.2 L87.9 180 H70.1 Z" fill="#ef7a14" stroke="#f6a35a" stroke-width="0.5"/>
<text transform="translate(72.2 179) scale(0.8 1)" font-family="Liberation Sans, sans-serif" font-weight="700" font-size="7.4" fill="#ffe489">D</text>
<rect x="77.7" y="183.9" width="16" height="9.8" fill="#173f92"/>
<circle cx="85.7" cy="188.8" r="3.2" fill="none" stroke="#d6e3f6" stroke-width="1.1" stroke-dasharray="0.9 0.78"/>
<circle cx="30.8" cy="16.2" r="6.6" fill="#111"/>
<text transform="translate(25.4 20.7) scale(0.72 1)" font-family="Liberation Sans, sans-serif" font-weight="700" font-style="italic" font-size="13.6" fill="#fff" stroke="#fff" stroke-width="0.45" letter-spacing="-0.3">xl</text>
</svg>
<div class="hdr"><div class="vida">vida</div><div class="com">.com</div><div class="num">240984</div></div>
<div class="t" style="left:35.2px;top:38.50px;transform:scaleX(0.953)">Αυτό το φωτιστικό είναι</div>
<div class="t" style="left:35.2px;top:44.70px;transform:scaleX(0.953)">συμβατό με λάμπες</div>
<div class="t" style="left:35.2px;top:50.90px;transform:scaleX(0.953)">ενεργειακής κλάσης:</div>
<div class="t" style="left:7.4px;top:162.50px;transform:scaleX(0.953)">Αυτό το φωτιστικό πωλείται</div>
<div class="t" style="left:7.4px;top:168.70px;transform:scaleX(0.953)">με λάμπες ενεργειακής</div>
<div class="t" style="left:7.4px;top:174.90px;transform:scaleX(0.953)">κλάσης:</div>
<div class="reg">874/2012</div>
<div class="lang"><span style="left:111.04px;transform:scaleX(0.612)">E</span><span style="left:123.47px;transform:scaleX(0.744)">L</span></div>
</div>
<div class="cell" style="left:300px;top:400px">
<div class="label"></div>
<svg class="g" width="150" height="200" viewBox="0 0 150 200">
<defs>
<linearGradient id="c22ag0" x1="0" x2="1" y1="0" y2="0"><stop offset="0" stop-color="#08934a"/><stop offset="1" stop-color="#2ba34a"/></linearGradient>
<linearGradient id="c22ag1" x1="0" x2="1" y1="0" y2="0"><stop offset="0" stop-color="#3aa947"/><stop offset="1" stop-color="#5bb23c"/></linearGradient>
<linearGradient id="c22ag2" x1="0" x2="1" y1="0" y2="0"><stop offset="0" stop-color="#bfd022"/><stop offset="1" stop-color="#cdd900"/></linearGradient>
<linearGradient id="c22ag3" x1="0" x2="1" y1="0" y2="0"><stop offset="0" stop-color="#f0f000"/><stop offset="1" stop-color="#ffec00"/></linearGradient>
<linearGradient id="c22ag4" x1="0" x2="1" y1="0" y2="0"><stop offset="0" stop-color="#f5bb00"/><stop offset="1" stop-color="#fcc600"/></linearGradient>
<linearGradient id="c22ag5" x1="0" x2="1" y1="0" y2="0"><stop offset="0" stop-color="#ea7410"/><stop offset="1" stop-color="#f27904"/></linearGradient>
<linearGradient id="c22ag6" x1="0" x2="1" y1="0" y2="0"><stop offset="0" stop-color="#d60a1c"/><stop offset="1" stop-color="#ea0814"/></linearGradient>
</defs>
<rect x="3.8" y="2.85" width="92.9" height="194" rx="2.2" fill="none" stroke="#a8f4ff" stroke-width="3.8" opacity="0.8"/>
<rect x="3.8" y="2.85" width="92.9" height="194" rx="2.2" fill="none" stroke="#267aa4" stroke-width="1.65"/>
<path d="M7 29.3 H93.6 M7 158.3 H93.6" stroke="#c4f3fc" stroke-width="5" stroke-linecap="round" opacity="0.6" fill="none"/>
<path d="M7.3 29.3 H93.3 M7.3 158.3 H93.3" stroke="#b4eefa" stroke-width="3" stroke-linecap="round" opacity="0.7" fill="none"/>
<line x1="7.5" y1="29.28" x2="93.1" y2="29.28" stroke="#25779a" stroke-width="1.76" stroke-linecap="round"/>
<line x1="7.5" y1="158.3" x2="93.1" y2="158.3" stroke="#25779a" stroke-width="1.82" stroke-linecap="round"/>
<rect x="8.05" y="37.36" width="24.3" height="24.1" rx="2" fill="none" stroke="#c4f5ff" stroke-width="4.6" opacity="0.6"/>
<rect x="8.05" y="37.36" width="24.3" height="24.1" rx="2" fill="#e3fdff" stroke="#2a7b9d" stroke-width="1.8"/>
<rect x="16" y="43.35" width="7.7" height="0.95" fill="#7f9db2"/>
<path d="M18.6 45 H21.4 Q23.4 46.8 24.8 50 H15.2 Q16.6 46.8 18.6 45 Z" fill="#72c2f6"/>
<g fill="#3fb0ec" stroke="#1f93d8" stroke-width="0.7">
<circle cx="12.0" cy="51.5" r="2.2"/>
<circle cx="17.1" cy="51.2" r="2.35"/>
<circle cx="22.3" cy="51.2" r="2.35"/>
<circle cx="27.6" cy="51.5" r="2.2"/>
</g>
<g fill="#7ccff9">
<circle cx="12.0" cy="51.3" r="0.95"/>
<circle cx="17.1" cy="51.0" r="0.95"/>
<circle cx="22.3" cy="51.0" r="0.95"/>
<circle cx="27.6" cy="51.3" r="0.95"/>
</g>
<path d="M7.3 69.90 H20.50 L24.70 74.70 L20.50 79.50 H7.3 Z" fill="url(#c22ag0)"/>
<path d="M7.3 81.57 H23.50 L27.70 86.37 L23.50 91.17 H7.3 Z" fill="url(#c22ag1)"/>
<path d="M7.3 93.24 H26.50 L30.70 98.04 L26.50 102.84 H7.3 Z" fill="url(#c22ag2)"/>
<path d="M7.3 104.91 H29.50 L33.70 109.71 L29.50 114.51 H7.3 Z" fill="url(#c22ag3)"/>
<path d="M7.3 116.58 H32.50 L36.70 121.38 L32.50 126.18 H7.3 Z" fill="url(#c22ag4)"/>
<path d="M7.3 128.25 H35.50 L39.70 133.05 L35.50 137.85 H7.3 Z" fill="url(#c22ag5)"/>
<path d="M7.3 139.92 H38.50 L42.70 144.72 L38.50 149.52 H7.3 Z" fill="url(#c22ag6)"/>
<text transform="translate(10.5 78.00) scale(0.7 1)" font-family="Liberation Sans, sans-serif" font-weight="700" font-size="8.6" fill="#f0fff2">A<tspan dy="-3.1" font-size="5" fill="#a4f2c0">++</tspan></text>
<text transform="translate(10.5 89.67) scale(0.7 1)" font-family="Liberation Sans, sans-serif" font-weight="700" font-size="8.6" fill="#f4fff0">A<tspan dy="-3.1" font-size="5" fill="#a4f2c0">+</tspan></text>
<text transform="translate(10.5 101.34) scale(0.7 1)" font-family="Liberation Sans, sans-serif" font-weight="700" font-size="8.6" fill="#f2f9b4">A</text>
<text transform="translate(10.5 113.01) scale(0.7 1)" font-family="Liberation Sans, sans-serif" font-weight="700" font-size="8.6" fill="#ffff94">B</text>
<text transform="translate(10.5 124.68) scale(0.7 1)" font-family="Liberation Sans, sans-serif" font-weight="700" font-size="8.6" fill="#fff0a0">C</text>
<text transform="translate(10.5 136.35) scale(0.7 1)" font-family="Liberation Sans, sans-serif" font-weight="700" font-size="8.6" fill="#ffe6b4">D</text>
<text transform="translate(10.5 148.02) scale(0.7 1)" font-family="Liberation Sans, sans-serif" font-weight="700" font-size="8.6" fill="#ffe6e0">E</text>
<path d="M6.4 70.1 L38.5 102.8 M38.5 70 L6.3 102.6" stroke="#8e181e" stroke-width="2.25" stroke-linecap="round" fill="none"/>
<rect x="-1.15" y="-1.15" width="2.3" height="2.3" transform="translate(22.4 86.4) rotate(45)" fill="#d8222c"/>
<path d="M55.2 106.5 H58.4 Q61.2 106.5 61.2 109.6 V124 Q61.2 126.7 64.7 127.3 Q61.2 127.9 61.2 130.6 V145.1 Q61.2 148.2 58.4 148.2 H55.2" stroke="#c8f6ff" stroke-width="4.6" fill="none" stroke-linecap="round" opacity="0.55"/>
<path d="M55.2 106.5 H58.4 Q61.2 106.5 61.2 109.6 V124 Q61.2 126.7 64.7 127.3 Q61.2 127.9 61.2 130.6 V145.1 Q61.2 148.2 58.4 148.2 H55.2" stroke="#1f7aae" stroke-width="1.9" fill="none" stroke-linecap="round"/>
<g transform="translate(72.0 126.3) rotate(49)" fill="none">
<rect x="-6.4" y="-2.1" width="8.6" height="4.2" rx="0.8" fill="#dcfaff" stroke="#6fa5bb" stroke-width="0.7"/>
<path d="M-3.5 -2.1 V2.1 M-0.7 -2.1 V2.1" stroke="#4a97b6" stroke-width="0.75"/>
<path d="M2.2 -1 H6 M2.2 1 H6" stroke="#5d9bb3" stroke-width="0.8"/>
</g>
<path d="M70.1 172.4 H87.9 L91 176.2 L87.9 180 H70.1 Z" fill="#ef7a14" stroke="#f6a35a" stroke-width="0.5"/>
<text transform="translate(72.2 179) scale(0.8 1)" font-family="Liberation Sans, sans-serif" font-weight="700" font-size="7.4" fill="#ffe489">D</text>
<rect x="77.7" y="183.9" width="16" height="9.8" fill="#173f92"/>
<circle cx="85.7" cy="188.8" r="3.2" fill="none" stroke="#d6e3f6" stroke-width="1.1" stroke-dasharray="0.9 0.78"/>
<circle cx="30.8" cy="16.2" r="6.6" fill="#111"/>
<text transform="translate(25.4 20.7) scale(0.72 1)" font-family="Liberation Sans, sans-serif" font-weight="700" font-style="italic" font-size="13.6" fill="#fff" stroke="#fff" stroke-width="0.45" letter-spacing="-0.3">xl</text>
</svg>
<div class="hdr"><div class="vida">vida</div><div class="com">.com</div><div class="num">240984</div></div>
<div class="t" style="left:35.2px;top:38.50px;transform:scaleX(0.886)">Dette armatur er</div>
<div class="t" style="left:35.2px;top:44.70px;transform:scaleX(0.886)">kompatibel med løg af</div>
<div class="t" style="left:35.2px;top:50.90px;transform:scaleX(0.886)">energiklasser:</div>
<div class="t" style="left:7.4px;top:164.70px;transform:scaleX(0.886)">Armaturet sælges med en pære</div>
<div class="t" style="left:7.4px;top:170.90px;transform:scaleX(0.886)">af energiklasse:</div>
<div class="reg">874/2012</div>
<div class="lang"><span style="left:110.38px;transform:scaleX(0.889)">D</span><span style="left:127.71px;transform:scaleX(0.845)">A</span></div>
</div>
<div class="cell" style="left:450px;top:400px">
<div class="label"></div>
<svg class="g" width="150" height="200" viewBox="0 0 150 200">
<defs>
<linearGradient id="c32ag0" x1="0" x2="1" y1="0" y2="0"><stop offset="0" stop-color="#08934a"/><stop offset="1" stop-color="#2ba34a"/></linearGradient>
<linearGradient id="c32ag1" x1="0" x2="1" y1="0" y2="0"><stop offset="0" stop-color="#3aa947"/><stop offset="1" stop-color="#5bb23c"/></linearGradient>
<linearGradient id="c32ag2" x1="0" x2="1" y1="0" y2="0"><stop offset="0" stop-color="#bfd022"/><stop offset="1" stop-color="#cdd900"/></linearGradient>
<linearGradient id="c32ag3" x1="0" x2="1" y1="0" y2="0"><stop offset="0" stop-color="#f0f000"/><stop offset="1" stop-color="#ffec00"/></linearGradient>
<linearGradient id="c32ag4" x1="0" x2="1" y1="0" y2="0"><stop offset="0" stop-color="#f5bb00"/><stop offset="1" stop-color="#fcc600"/></linearGradient>
<linearGradient id="c32ag5" x1="0" x2="1" y1="0" y2="0"><stop offset="0" stop-color="#ea7410"/><stop offset="1" stop-color="#f27904"/></linearGradient>
<linearGradient id="c32ag6" x1="0" x2="1" y1="0" y2="0"><stop offset="0" stop-color="#d60a1c"/><stop offset="1" stop-color="#ea0814"/></linearGradient>
</defs>
<rect x="3.8" y="2.85" width="92.9" height="194" rx="2.2" fill="none" stroke="#a8f4ff" stroke-width="3.8" opacity="0.8"/>
<rect x="3.8" y="2.85" width="92.9" height="194" rx="2.2" fill="none" stroke="#267aa4" stroke-width="1.65"/>
<path d="M7 29.3 H93.6 M7 158.3 H93.6" stroke="#c4f3fc" stroke-width="5" stroke-linecap="round" opacity="0.6" fill="none"/>
<path d="M7.3 29.3 H93.3 M7.3 158.3 H93.3" stroke="#b4eefa" stroke-width="3" stroke-linecap="round" opacity="0.7" fill="none"/>
<line x1="7.5" y1="29.28" x2="93.1" y2="29.28" stroke="#25779a" stroke-width="1.76" stroke-linecap="round"/>
<line x1="7.5" y1="158.3" x2="93.1" y2="158.3" stroke="#25779a" stroke-width="1.82" stroke-linecap="round"/>
<rect x="8.05" y="37.36" width="24.3" height="24.1" rx="2" fill="none" stroke="#c4f5ff" stroke-width="4.6" opacity="0.6"/>
<rect x="8.05" y="37.36" width="24.3" height="24.1" rx="2" fill="#e3fdff" stroke="#2a7b9d" stroke-width="1.8"/>
<rect x="16" y="43.35" width="7.7" height="0.95" fill="#7f9db2"/>
<path d="M18.6 45 H21.4 Q23.4 46.8 24.8 50 H15.2 Q16.6 46.8 18.6 45 Z" fill="#72c2f6"/>
<g fill="#3fb0ec" stroke="#1f93d8" stroke-width="0.7">
<circle cx="12.0" cy="51.5" r="2.2"/>
<circle cx="17.1" cy="51.2" r="2.35"/>
<circle cx="22.3" cy="51.2" r="2.35"/>
<circle cx="27.6" cy="51.5" r="2.2"/>
</g>
<g fill="#7ccff9">
<circle cx="12.0" cy="51.3" r="0.95"/>
<circle cx="17.1" cy="51.0" r="0.95"/>
<circle cx="22.3" cy="51.0" r="0.95"/>
<circle cx="27.6" cy="51.3" r="0.95"/>
</g>
<path d="M7.3 69.90 H20.50 L24.70 74.70 L20.50 79.50 H7.3 Z" fill="url(#c32ag0)"/>
<path d="M7.3 81.57 H23.50 L27.70 86.37 L23.50 91.17 H7.3 Z" fill="url(#c32ag1)"/>
<path d="M7.3 93.24 H26.50 L30.70 98.04 L26.50 102.84 H7.3 Z" fill="url(#c32ag2)"/>
<path d="M7.3 104.91 H29.50 L33.70 109.71 L29.50 114.51 H7.3 Z" fill="url(#c32ag3)"/>
<path d="M7.3 116.58 H32.50 L36.70 121.38 L32.50 126.18 H7.3 Z" fill="url(#c32ag4)"/>
<path d="M7.3 128.25 H35.50 L39.70 133.05 L35.50 137.85 H7.3 Z" fill="url(#c32ag5)"/>
<path d="M7.3 139.92 H38.50 L42.70 144.72 L38.50 149.52 H7.3 Z" fill="url(#c32ag6)"/>
<text transform="translate(10.5 78.00) scale(0.7 1)" font-family="Liberation Sans, sans-serif" font-weight="700" font-size="8.6" fill="#f0fff2">A<tspan dy="-3.1" font-size="5" fill="#a4f2c0">++</tspan></text>
<text transform="translate(10.5 89.67) scale(0.7 1)" font-family="Liberation Sans, sans-serif" font-weight="700" font-size="8.6" fill="#f4fff0">A<tspan dy="-3.1" font-size="5" fill="#a4f2c0">+</tspan></text>
<text transform="translate(10.5 101.34) scale(0.7 1)" font-family="Liberation Sans, sans-serif" font-weight="700" font-size="8.6" fill="#f2f9b4">A</text>
<text transform="translate(10.5 113.01) scale(0.7 1)" font-family="Liberation Sans, sans-serif" font-weight="700" font-size="8.6" fill="#ffff94">B</text>
<text transform="translate(10.5 124.68) scale(0.7 1)" font-family="Liberation Sans, sans-serif" font-weight="700" font-size="8.6" fill="#fff0a0">C</text>
<text transform="translate(10.5 136.35) scale(0.7 1)" font-family="Liberation Sans, sans-serif" font-weight="700" font-size="8.6" fill="#ffe6b4">D</text>
<text transform="translate(10.5 148.02) scale(0.7 1)" font-family="Liberation Sans, sans-serif" font-weight="700" font-size="8.6" fill="#ffe6e0">E</text>
<path d="M6.4 70.1 L38.5 102.8 M38.5 70 L6.3 102.6" stroke="#8e181e" stroke-width="2.25" stroke-linecap="round" fill="none"/>
<rect x="-1.15" y="-1.15" width="2.3" height="2.3" transform="translate(22.4 86.4) rotate(45)" fill="#d8222c"/>
<path d="M55.2 106.5 H58.4 Q61.2 106.5 61.2 109.6 V124 Q61.2 126.7 64.7 127.3 Q61.2 127.9 61.2 130.6 V145.1 Q61.2 148.2 58.4 148.2 H55.2" stroke="#c8f6ff" stroke-width="4.6" fill="none" stroke-linecap="round" opacity="0.55"/>
<path d="M55.2 106.5 H58.4 Q61.2 106.5 61.2 109.6 V124 Q61.2 126.7 64.7 127.3 Q61.2 127.9 61.2 130.6 V145.1 Q61.2 148.2 58.4 148.2 H55.2" stroke="#1f7aae" stroke-width="1.9" fill="none" stroke-linecap="round"/>
<g transform="translate(72.0 126.3) rotate(49)" fill="none">
<rect x="-6.4" y="-2.1" width="8.6" height="4.2" rx="0.8" fill="#dcfaff" stroke="#6fa5bb" stroke-width="0.7"/>
<path d="M-3.5 -2.1 V2.1 M-0.7 -2.1 V2.1" stroke="#4a97b6" stroke-width="0.75"/>
<path d="M2.2 -1 H6 M2.2 1 H6" stroke="#5d9bb3" stroke-width="0.8"/>
</g>
<path d="M70.1 172.4 H87.9 L91 176.2 L87.9 180 H70.1 Z" fill="#ef7a14" stroke="#f6a35a" stroke-width="0.5"/>
<text transform="translate(72.2 179) scale(0.8 1)" font-family="Liberation Sans, sans-serif" font-weight="700" font-size="7.4" fill="#ffe489">D</text>
<rect x="77.7" y="183.9" width="16" height="9.8" fill="#173f92"/>
<circle cx="85.7" cy="188.8" r="3.2" fill="none" stroke="#d6e3f6" stroke-width="1.1" stroke-dasharray="0.9 0.78"/>
<circle cx="30.8" cy="16.2" r="6.6" fill="#111"/>
<text transform="translate(25.4 20.7) scale(0.72 1)" font-family="Liberation Sans, sans-serif" font-weight="700" font-style="italic" font-size="13.6" fill="#fff" stroke="#fff" stroke-width="0.45" letter-spacing="-0.3">xl</text>
</svg>
<div class="hdr"><div class="vida">vida</div><div class="com">.com</div><div class="num">240984</div></div>
<div class="t" style="left:35.2px;top:38.50px;transform:scaleX(0.863)">Осветителното тяло е</div>
<div class="t" style="left:35.2px;top:44.70px;transform:scaleX(0.863)">съвместимо с крушки</div>
<div class="t" style="left:35.2px;top:50.90px;transform:scaleX(0.863)">от енергийни класове:</div>
<div class="t" style="left:7.4px;top:164.70px;transform:scaleX(0.863)">Осветителното тяло се продава с</div>
<div class="t" style="left:7.4px;top:170.90px;transform:scaleX(0.863)">крушка от енергиен клас:</div>
<div class="reg">874/2012</div>
<div class="lang"><span style="left:110.73px;transform:scaleX(0.742)">B</span><span style="left:124.78px;transform:scaleX(0.804)">G</span></div>
</div>
<svg class="grid" width="600" height="600" viewBox="0 0 600 600">
<g stroke="#747474" stroke-width="1.2" fill="none">
<line x1="150.3" y1="0" x2="150.3" y2="600"/>
<line x1="300.3" y1="0" x2="300.3" y2="600"/>
<line x1="450.3" y1="0" x2="450.3" y2="600"/>
<line x1="0" y1="200.15" x2="600" y2="200.15"/>
<line x1="0" y1="400.15" x2="600" y2="400.15"/>
</g>
<rect x="0" y="0" width="0.95" height="600" fill="#7a7a7a"/>
<rect x="598.95" y="0" width="1.05" height="600" fill="#7a7a7a"/>
<rect x="0" y="0" width="600" height="0.85" fill="#7a7a7a"/>
<rect x="0" y="598.9" width="600" height="1.1" fill="#7a7a7a"/>
</svg>
</div>
</body></html>
